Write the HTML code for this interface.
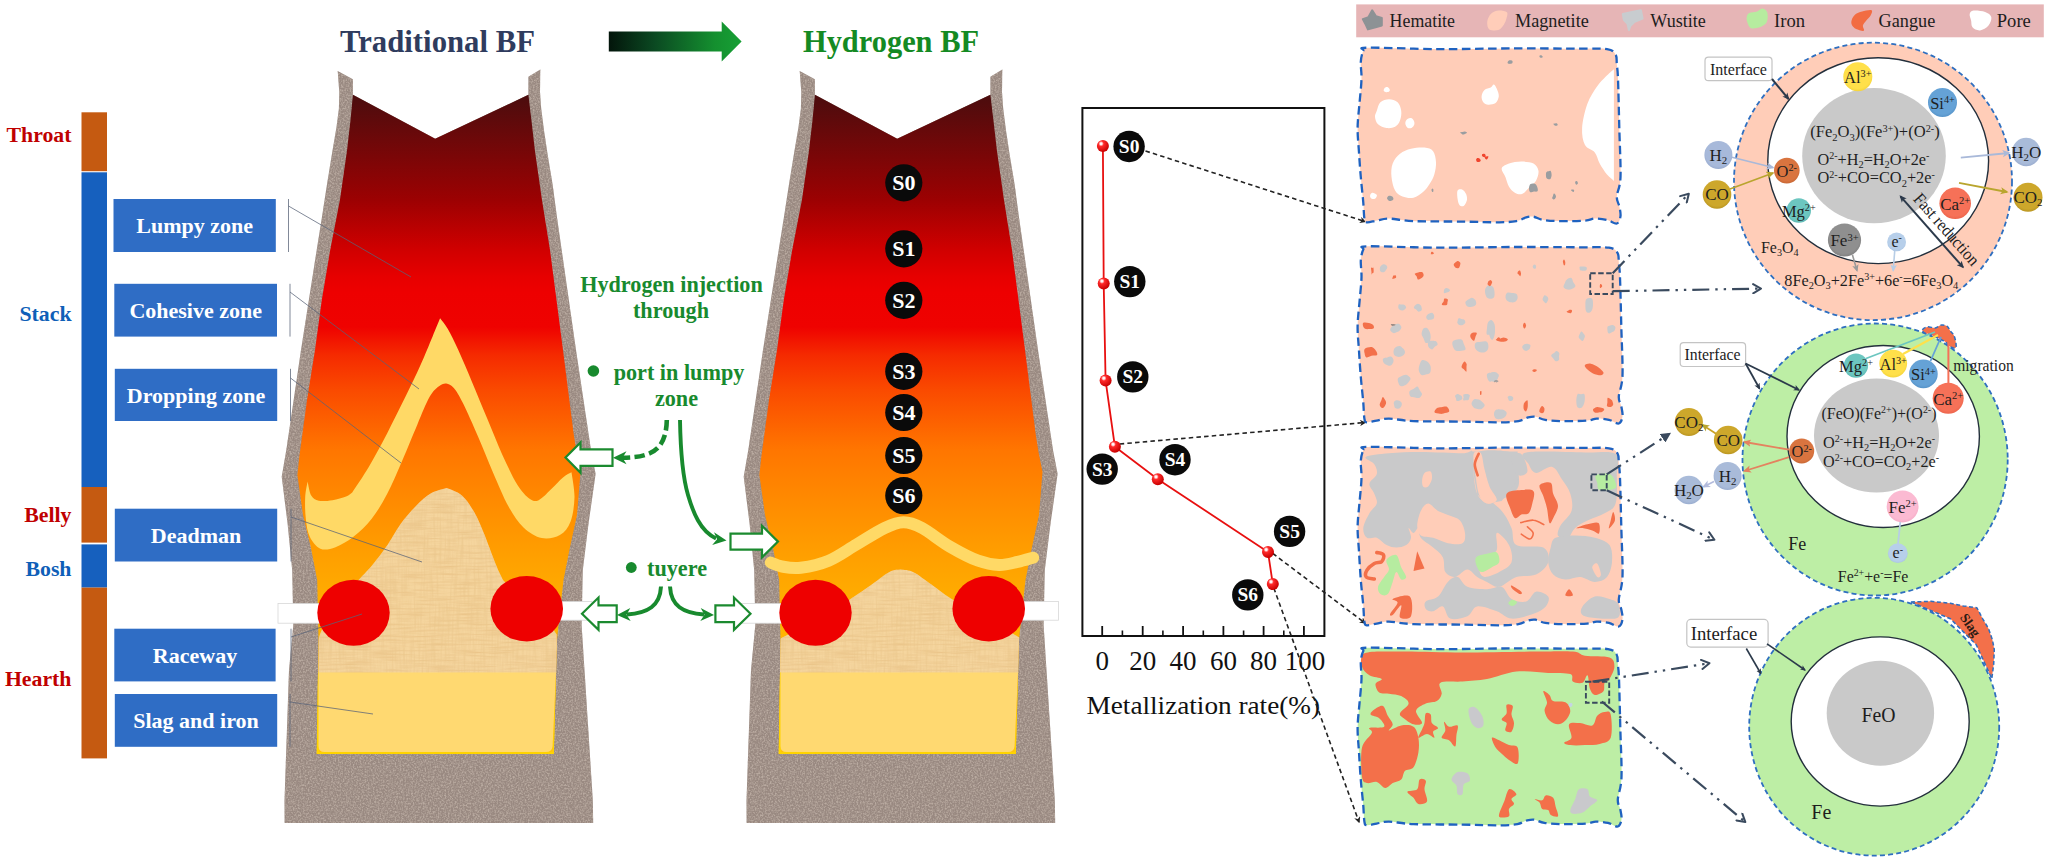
<!DOCTYPE html>
<html><head><meta charset="utf-8"><title>Hydrogen BF</title>
<style>html,body{margin:0;padding:0;background:#fff}svg{display:block}text{font-family:'Liberation Serif',serif}</style>
</head><body>
<svg width="2048" height="857" viewBox="0 0 2048 857">
<defs>
<linearGradient id="fire" gradientUnits="userSpaceOnUse" x1="0" y1="94" x2="0" y2="756">
 <stop offset="0" stop-color="#4a0d0e"/>
 <stop offset="0.07" stop-color="#6e0809"/>
 <stop offset="0.16" stop-color="#9c0102"/>
 <stop offset="0.235" stop-color="#d00000"/>
 <stop offset="0.275" stop-color="#e60000"/>
 <stop offset="0.30" stop-color="#ee0000"/>
 <stop offset="0.352" stop-color="#ef0200"/>
 <stop offset="0.394" stop-color="#f52a00"/>
 <stop offset="0.447" stop-color="#fa4a00"/>
 <stop offset="0.538" stop-color="#ff7600"/>
 <stop offset="0.643" stop-color="#ff9200"/>
 <stop offset="0.70" stop-color="#ffa000"/>
 <stop offset="0.78" stop-color="#ffb000"/>
 <stop offset="1" stop-color="#ffc40a"/>
</linearGradient>
<linearGradient id="garrow" x1="0" y1="0" x2="1" y2="0">
 <stop offset="0" stop-color="#03150b"/>
 <stop offset="0.35" stop-color="#0b4a22"/>
 <stop offset="0.8" stop-color="#14902f"/>
 <stop offset="1" stop-color="#17a035"/>
</linearGradient>
<filter id="grain" x="0" y="0" width="100%" height="100%" color-interpolation-filters="sRGB">
 <feTurbulence type="fractalNoise" baseFrequency="0.6" numOctaves="2" seed="3" result="n"/>
 <feColorMatrix in="n" type="matrix" values="0 0 0 0 0  0 0 0 0 0  0 0 0 0 0  2.6 0 0 0 -1.0" result="a"/>
 <feFlood flood-color="#b9aaa0" result="f"/>
 <feComposite in="f" in2="a" operator="in" result="sp"/>
 <feComposite in="sp" in2="SourceGraphic" operator="in" result="sp2"/>
 <feMerge><feMergeNode in="SourceGraphic"/><feMergeNode in="sp2"/></feMerge>
</filter>
<pattern id="weave" width="4" height="4" patternUnits="userSpaceOnUse">
 <rect width="4" height="4" fill="#f8dba4"/>
 <path d="M0 1H4M0 3H4" stroke="#efca8e" stroke-width="0.6" opacity="0.6"/>
 <path d="M1 0V4M3 0V4" stroke="#f1d097" stroke-width="0.6" opacity="0.7"/>
</pattern>
<filter id="streak" x="0" y="0" width="100%" height="100%" color-interpolation-filters="sRGB">
 <feTurbulence type="fractalNoise" baseFrequency="0.035 0.5" numOctaves="2" seed="5" result="h"/>
 <feColorMatrix in="h" type="matrix" values="0 0 0 0 0.90  0 0 0 0 0.74  0 0 0 0 0.50  1.4 0 0 0 -0.55" result="ha"/>
 <feTurbulence type="fractalNoise" baseFrequency="0.5 0.03" numOctaves="2" seed="11" result="v"/>
 <feColorMatrix in="v" type="matrix" values="0 0 0 0 0.92  0 0 0 0 0.78  0 0 0 0 0.55  1.4 0 0 0 -0.55" result="va"/>
 <feMerge result="m"><feMergeNode in="ha"/><feMergeNode in="va"/></feMerge>
 <feComposite in="m" in2="SourceGraphic" operator="in" result="mm"/>
 <feMerge><feMergeNode in="SourceGraphic"/><feMergeNode in="mm"/></feMerge>
</filter>
<radialGradient id="ball" cx="0.35" cy="0.3" r="0.7">
 <stop offset="0" stop-color="#ffffff"/>
 <stop offset="0.12" stop-color="#fff0f0"/>
 <stop offset="0.32" stop-color="#ff2a2a"/>
 <stop offset="1" stop-color="#c80000"/>
</radialGradient>
<marker id="mDark" viewBox="0 0 10 10" refX="8" refY="5" markerWidth="5.5" markerHeight="5.5" orient="auto-start-reverse">
 <path d="M0 0.5L9.5 5L0 9.5L2.5 5z" fill="#2c3a4b"/>
</marker>
<marker id="mOpen" viewBox="0 0 12 12" refX="10" refY="6" markerWidth="5" markerHeight="5" orient="auto">
 <path d="M2 1L10.5 6L2 11" fill="none" stroke="#3a4a5e" stroke-width="2.2" stroke-linecap="round" stroke-linejoin="round"/>
</marker>
<marker id="mTri" viewBox="0 0 10 10" refX="7" refY="5" markerWidth="4.6" markerHeight="4.6" orient="auto">
 <path d="M0 0L10 5L0 10z" fill="#3a4a5e"/>
</marker>
<marker id="mBlk" viewBox="0 0 10 10" refX="8" refY="5" markerWidth="4" markerHeight="4" orient="auto">
 <path d="M0 0L10 5L0 10L3 5z" fill="#222"/>
</marker>

<clipPath id="fc1"><polygon points="352.9,94.8 435.2,138.7 528.4,94.8 531.4,120.0 534.9,150.4 541.9,199.4 550.0,250.0 563.0,350.0 573.6,433.5 576.5,452.0 580.5,472.0 577.0,515.0 570.0,547.0 563.5,580.0 558.5,625.0 557.0,640.0 553.8,754.0 316.7,754.0 318.5,640.0 317.2,580.0 310.8,547.0 303.0,515.0 297.4,475.0 299.2,457.7 307.0,400.0 315.0,350.0 321.8,300.0 330.2,250.0 340.0,199.4 347.0,150.4 350.5,120.0"/></clipPath>
<clipPath id="fc2"><polygon points="352.9,94.8 435.2,138.7 528.4,94.8 531.4,120.0 534.9,150.4 541.9,199.4 550.0,250.0 563.0,350.0 573.6,433.5 576.5,452.0 580.5,472.0 577.0,515.0 570.0,547.0 563.5,580.0 558.5,625.0 557.0,640.0 553.8,754.0 316.7,754.0 318.5,640.0 317.2,580.0 310.8,547.0 303.0,515.0 297.4,475.0 299.2,457.7 307.0,400.0 315.0,350.0 321.8,300.0 330.2,250.0 340.0,199.4 347.0,150.4 350.5,120.0"/></clipPath>
<clipPath id="pc0"><path d="M1363.3 50.9 C1364.5 48.5 1355.8 48.0 1368.2 47.7 C1380.7 47.4 1414.1 49.0 1438.0 49.1 C1461.9 49.2 1488.2 48.5 1511.5 48.4 C1534.8 48.3 1562.1 48.6 1578.0 48.7 C1593.9 48.8 1600.7 48.1 1607.0 49.1 C1613.3 50.1 1614.0 52.0 1615.6 54.5 C1617.2 57.0 1616.4 60.3 1616.8 64.4 C1617.2 68.5 1617.6 68.4 1618.0 79.0 C1618.4 89.6 1618.9 111.7 1619.3 128.0 C1619.7 144.3 1620.9 165.6 1620.5 177.0 C1620.1 188.4 1617.0 191.7 1616.8 196.6 C1616.6 201.5 1618.7 203.1 1619.3 206.4 C1619.9 209.7 1620.9 213.3 1620.5 216.2 C1620.1 219.0 1619.0 222.9 1616.8 223.5 C1614.5 224.1 1610.7 220.7 1607.0 219.9 C1603.3 219.1 1598.5 218.5 1594.8 218.6 C1591.1 218.7 1590.7 220.2 1585.0 220.6 C1579.3 221.0 1567.5 221.2 1560.5 221.1 C1553.5 221.0 1547.8 220.6 1543.3 219.9 C1538.8 219.2 1536.3 217.1 1533.5 216.7 C1530.7 216.3 1529.0 216.7 1526.2 217.4 C1523.4 218.1 1520.9 220.3 1516.4 221.1 C1511.9 221.9 1508.2 222.2 1499.2 222.3 C1490.2 222.4 1476.7 221.8 1462.4 221.6 C1448.1 221.4 1425.6 221.6 1413.4 221.1 C1401.2 220.6 1395.1 218.7 1389.0 218.6 C1382.9 218.5 1380.4 220.0 1376.7 220.6 C1373.0 221.2 1369.0 222.6 1366.9 222.3 C1364.9 222.0 1365.0 222.1 1364.4 218.6 C1363.8 215.1 1363.8 208.4 1363.2 201.5 C1362.6 194.6 1361.5 185.2 1360.8 177.0 C1360.1 168.8 1359.5 160.6 1359.0 152.4 C1358.5 144.2 1357.5 136.2 1357.6 128.0 C1357.7 119.8 1358.8 111.6 1359.5 103.4 C1360.2 95.2 1361.3 85.9 1361.5 79.0 C1361.7 72.1 1360.5 66.6 1360.8 61.9 C1361.1 57.2 1362.1 53.3 1363.3 50.9Z"/></clipPath>
<clipPath id="pc1"><path d="M1363.3 249.5 C1364.5 247.1 1355.8 246.6 1368.2 246.3 C1380.7 246.0 1414.1 247.6 1438.0 247.7 C1461.9 247.8 1487.8 247.1 1511.5 247.0 C1535.2 246.9 1563.8 247.2 1580.0 247.3 C1596.2 247.4 1602.7 246.7 1609.0 247.7 C1615.3 248.7 1616.0 250.5 1617.6 253.1 C1619.2 255.7 1618.4 258.9 1618.8 263.0 C1619.2 267.1 1619.6 267.0 1620.0 277.6 C1620.4 288.2 1620.9 310.3 1621.3 326.6 C1621.7 342.9 1622.9 363.9 1622.5 375.6 C1622.1 387.3 1619.0 391.5 1618.8 396.6 C1618.6 401.7 1620.7 403.1 1621.3 406.4 C1621.9 409.7 1622.9 413.3 1622.5 416.2 C1622.1 419.1 1621.0 422.9 1618.8 423.5 C1616.5 424.1 1612.7 420.7 1609.0 419.9 C1605.3 419.1 1600.5 418.5 1596.8 418.6 C1593.1 418.7 1592.7 420.2 1587.0 420.6 C1581.3 421.0 1569.5 421.2 1562.5 421.1 C1555.5 421.0 1549.8 420.6 1545.3 419.9 C1540.8 419.2 1538.3 417.1 1535.5 416.7 C1532.7 416.3 1531.0 416.7 1528.2 417.4 C1525.4 418.1 1522.9 420.3 1518.4 421.1 C1513.9 421.9 1510.5 422.2 1501.2 422.3 C1491.9 422.4 1477.0 421.8 1462.4 421.6 C1447.8 421.4 1425.6 421.6 1413.4 421.1 C1401.2 420.6 1395.1 418.7 1389.0 418.6 C1382.9 418.5 1380.4 420.0 1376.7 420.6 C1373.0 421.2 1369.0 422.6 1366.9 422.3 C1364.9 422.0 1365.0 422.1 1364.4 418.6 C1363.8 415.1 1363.8 408.4 1363.2 401.5 C1362.6 394.6 1361.5 385.4 1360.8 377.0 C1360.1 368.6 1359.5 359.4 1359.0 351.0 C1358.5 342.6 1357.5 334.8 1357.6 326.6 C1357.7 318.4 1358.8 310.2 1359.5 302.0 C1360.2 293.8 1361.3 284.5 1361.5 277.6 C1361.7 270.7 1360.5 265.2 1360.8 260.5 C1361.1 255.8 1362.1 251.9 1363.3 249.5Z"/></clipPath>
<clipPath id="pc2"><path d="M1363.3 450.1 C1364.5 447.7 1355.8 447.2 1368.2 446.9 C1380.7 446.6 1414.1 448.2 1438.0 448.3 C1461.9 448.4 1487.8 447.7 1511.5 447.6 C1535.2 447.5 1563.8 447.8 1580.0 447.9 C1596.2 448.0 1602.7 447.3 1609.0 448.3 C1615.3 449.3 1616.0 451.2 1617.6 453.7 C1619.2 456.3 1618.4 459.5 1618.8 463.6 C1619.2 467.7 1619.6 467.6 1620.0 478.2 C1620.4 488.8 1620.9 510.9 1621.3 527.2 C1621.7 543.5 1622.9 564.1 1622.5 576.2 C1622.1 588.3 1619.0 594.1 1618.8 599.6 C1618.6 605.1 1620.7 606.1 1621.3 609.4 C1621.9 612.7 1622.9 616.4 1622.5 619.2 C1622.1 622.1 1621.0 625.9 1618.8 626.5 C1616.5 627.1 1612.7 623.7 1609.0 622.9 C1605.3 622.1 1600.5 621.5 1596.8 621.6 C1593.1 621.7 1592.7 623.2 1587.0 623.6 C1581.3 624.0 1569.5 624.2 1562.5 624.1 C1555.5 624.0 1549.8 623.6 1545.3 622.9 C1540.8 622.2 1538.3 620.1 1535.5 619.7 C1532.7 619.3 1531.0 619.7 1528.2 620.4 C1525.4 621.1 1522.9 623.3 1518.4 624.1 C1513.9 624.9 1510.5 625.2 1501.2 625.3 C1491.9 625.4 1477.0 624.8 1462.4 624.6 C1447.8 624.4 1425.6 624.6 1413.4 624.1 C1401.2 623.6 1395.1 621.7 1389.0 621.6 C1382.9 621.5 1380.4 623.0 1376.7 623.6 C1373.0 624.2 1369.0 625.6 1366.9 625.3 C1364.9 625.0 1365.0 625.1 1364.4 621.6 C1363.8 618.1 1363.8 611.4 1363.2 604.5 C1362.6 597.6 1361.5 588.8 1360.8 580.0 C1360.1 571.2 1359.5 560.4 1359.0 551.6 C1358.5 542.8 1357.5 535.4 1357.6 527.2 C1357.7 519.0 1358.8 510.8 1359.5 502.6 C1360.2 494.4 1361.3 485.1 1361.5 478.2 C1361.7 471.3 1360.5 465.8 1360.8 461.1 C1361.1 456.4 1362.1 452.5 1363.3 450.1Z"/></clipPath>
<clipPath id="pc3"><path d="M1363.3 650.9 C1364.5 648.5 1355.8 648.0 1368.2 647.7 C1380.7 647.4 1414.1 649.0 1438.0 649.1 C1461.9 649.2 1488.0 648.5 1511.5 648.4 C1535.0 648.3 1562.9 648.6 1579.0 648.7 C1595.1 648.8 1601.7 648.1 1608.0 649.1 C1614.3 650.1 1615.0 652.0 1616.6 654.5 C1618.2 657.0 1617.4 660.3 1617.8 664.4 C1618.2 668.5 1618.6 668.4 1619.0 679.0 C1619.4 689.6 1619.9 711.7 1620.3 728.0 C1620.7 744.3 1621.9 765.1 1621.5 777.0 C1621.1 788.9 1618.0 794.2 1617.8 799.6 C1617.6 805.0 1619.7 806.1 1620.3 809.4 C1620.9 812.7 1621.9 816.4 1621.5 819.2 C1621.1 822.1 1620.0 825.9 1617.8 826.5 C1615.5 827.1 1611.7 823.7 1608.0 822.9 C1604.3 822.1 1599.5 821.5 1595.8 821.6 C1592.1 821.7 1591.7 823.2 1586.0 823.6 C1580.3 824.0 1568.5 824.2 1561.5 824.1 C1554.5 824.0 1548.8 823.6 1544.3 822.9 C1539.8 822.2 1537.3 820.1 1534.5 819.7 C1531.7 819.3 1530.0 819.7 1527.2 820.4 C1524.4 821.1 1521.9 823.3 1517.4 824.1 C1512.9 824.9 1509.4 825.2 1500.2 825.3 C1491.0 825.4 1476.9 824.8 1462.4 824.6 C1447.9 824.4 1425.6 824.6 1413.4 824.1 C1401.2 823.6 1395.1 821.7 1389.0 821.6 C1382.9 821.5 1380.4 823.0 1376.7 823.6 C1373.0 824.2 1369.0 825.6 1366.9 825.3 C1364.9 825.0 1365.0 825.1 1364.4 821.6 C1363.8 818.1 1363.8 811.4 1363.2 804.5 C1362.6 797.6 1361.5 788.7 1360.8 780.0 C1360.1 771.3 1359.5 761.1 1359.0 752.4 C1358.5 743.7 1357.5 736.2 1357.6 728.0 C1357.7 719.8 1358.8 711.6 1359.5 703.4 C1360.2 695.2 1361.3 685.9 1361.5 679.0 C1361.7 672.1 1360.5 666.6 1360.8 661.9 C1361.1 657.2 1362.1 653.3 1363.3 650.9Z"/></clipPath>
<marker id="mDk2" viewBox="0 0 10 10" refX="8" refY="5" markerWidth="3.6" markerHeight="3.6" orient="auto-start-reverse"><path d="M0 0.5L10 5L0 9.5L2.5 5z" fill="#2c3a4b"/></marker>
<marker id="mLB" viewBox="0 0 10 10" refX="8" refY="5" markerWidth="4.5" markerHeight="4.5" orient="auto-start-reverse"><path d="M0 0.5L10 5L0 9.5L2.5 5z" fill="#a9b9d9"/></marker>
<marker id="mOL" viewBox="0 0 10 10" refX="8" refY="5" markerWidth="4.5" markerHeight="4.5" orient="auto-start-reverse"><path d="M0 0.5L10 5L0 9.5L2.5 5z" fill="#b9a52e"/></marker>
<marker id="mGy" viewBox="0 0 10 10" refX="8" refY="5" markerWidth="4.5" markerHeight="4.5" orient="auto-start-reverse"><path d="M0 0.5L10 5L0 9.5L2.5 5z" fill="#9a9a9a"/></marker>
<marker id="mLb2" viewBox="0 0 10 10" refX="8" refY="5" markerWidth="4.5" markerHeight="4.5" orient="auto-start-reverse"><path d="M0 0.5L10 5L0 9.5L2.5 5z" fill="#b7cde6"/></marker>
<radialGradient id="g12" cx="0.5" cy="0.45" r="0.6"><stop offset="0" stop-color="#a7b9da"/><stop offset="0.75" stop-color="#a7b9da"/><stop offset="1" stop-color="#93a6cb"/></radialGradient>
<radialGradient id="g13" cx="0.5" cy="0.45" r="0.6"><stop offset="0" stop-color="#cda72b"/><stop offset="0.75" stop-color="#cda72b"/><stop offset="1" stop-color="#b08d1d"/></radialGradient>
<radialGradient id="g14" cx="0.5" cy="0.45" r="0.6"><stop offset="0" stop-color="#d9743f"/><stop offset="0.75" stop-color="#d9743f"/><stop offset="1" stop-color="#c0612f"/></radialGradient>
<radialGradient id="g15" cx="0.5" cy="0.45" r="0.6"><stop offset="0" stop-color="#ffe04a"/><stop offset="0.75" stop-color="#ffe04a"/><stop offset="1" stop-color="#f0cf35"/></radialGradient>
<radialGradient id="g16" cx="0.5" cy="0.45" r="0.6"><stop offset="0" stop-color="#65a2d6"/><stop offset="0.75" stop-color="#65a2d6"/><stop offset="1" stop-color="#4f8cc2"/></radialGradient>
<radialGradient id="g17" cx="0.5" cy="0.45" r="0.6"><stop offset="0" stop-color="#a9bbd9"/><stop offset="0.75" stop-color="#a9bbd9"/><stop offset="1" stop-color="#93a6cb"/></radialGradient>
<radialGradient id="g18" cx="0.5" cy="0.45" r="0.6"><stop offset="0" stop-color="#cda72b"/><stop offset="0.75" stop-color="#cda72b"/><stop offset="1" stop-color="#b08d1d"/></radialGradient>
<radialGradient id="g19" cx="0.5" cy="0.45" r="0.6"><stop offset="0" stop-color="#6cc6c0"/><stop offset="0.75" stop-color="#6cc6c0"/><stop offset="1" stop-color="#58b3ad"/></radialGradient>
<radialGradient id="g20" cx="0.5" cy="0.45" r="0.6"><stop offset="0" stop-color="#f67158"/><stop offset="0.75" stop-color="#f67158"/><stop offset="1" stop-color="#e85f47"/></radialGradient>
<radialGradient id="g21" cx="0.5" cy="0.45" r="0.6"><stop offset="0" stop-color="#8f8f8f"/><stop offset="0.75" stop-color="#8f8f8f"/><stop offset="1" stop-color="#7a7a7a"/></radialGradient>
<radialGradient id="g22" cx="0.5" cy="0.45" r="0.6"><stop offset="0" stop-color="#b7cfea"/><stop offset="0.75" stop-color="#b7cfea"/><stop offset="1" stop-color="#a3bfdf"/></radialGradient>
<radialGradient id="g23" cx="0.5" cy="0.45" r="0.6"><stop offset="0" stop-color="#6cc6c0"/><stop offset="0.75" stop-color="#6cc6c0"/><stop offset="1" stop-color="#58b3ad"/></radialGradient>
<radialGradient id="g24" cx="0.5" cy="0.45" r="0.6"><stop offset="0" stop-color="#ffe04a"/><stop offset="0.75" stop-color="#ffe04a"/><stop offset="1" stop-color="#f0cf35"/></radialGradient>
<radialGradient id="g25" cx="0.5" cy="0.45" r="0.6"><stop offset="0" stop-color="#65a2d6"/><stop offset="0.75" stop-color="#65a2d6"/><stop offset="1" stop-color="#4f8cc2"/></radialGradient>
<radialGradient id="g26" cx="0.5" cy="0.45" r="0.6"><stop offset="0" stop-color="#f67158"/><stop offset="0.75" stop-color="#f67158"/><stop offset="1" stop-color="#e85f47"/></radialGradient>
<marker id="mSa" viewBox="0 0 10 10" refX="8" refY="5" markerWidth="4.5" markerHeight="4.5" orient="auto-start-reverse"><path d="M0 0.5L10 5L0 9.5L2.5 5z" fill="#e4825f"/></marker>
<marker id="mLP" viewBox="0 0 10 10" refX="8" refY="5" markerWidth="4.5" markerHeight="4.5" orient="auto-start-reverse"><path d="M0 0.5L10 5L0 9.5L2.5 5z" fill="#b3bbdc"/></marker>
<radialGradient id="g29" cx="0.5" cy="0.45" r="0.6"><stop offset="0" stop-color="#cda72b"/><stop offset="0.75" stop-color="#cda72b"/><stop offset="1" stop-color="#b08d1d"/></radialGradient>
<radialGradient id="g30" cx="0.5" cy="0.45" r="0.6"><stop offset="0" stop-color="#cda72b"/><stop offset="0.75" stop-color="#cda72b"/><stop offset="1" stop-color="#b08d1d"/></radialGradient>
<radialGradient id="g31" cx="0.5" cy="0.45" r="0.6"><stop offset="0" stop-color="#a9bbd9"/><stop offset="0.75" stop-color="#a9bbd9"/><stop offset="1" stop-color="#93a6cb"/></radialGradient>
<radialGradient id="g32" cx="0.5" cy="0.45" r="0.6"><stop offset="0" stop-color="#a9bbd9"/><stop offset="0.75" stop-color="#a9bbd9"/><stop offset="1" stop-color="#93a6cb"/></radialGradient>
<radialGradient id="g33" cx="0.5" cy="0.45" r="0.6"><stop offset="0" stop-color="#d9743f"/><stop offset="0.75" stop-color="#d9743f"/><stop offset="1" stop-color="#c0612f"/></radialGradient>
<radialGradient id="g34" cx="0.5" cy="0.45" r="0.6"><stop offset="0" stop-color="#fbbad2"/><stop offset="0.75" stop-color="#fbbad2"/><stop offset="1" stop-color="#f3a6c2"/></radialGradient>
<radialGradient id="g35" cx="0.5" cy="0.45" r="0.6"><stop offset="0" stop-color="#b7cfea"/><stop offset="0.75" stop-color="#b7cfea"/><stop offset="1" stop-color="#a3bfdf"/></radialGradient></defs>
<rect width="2048" height="857" fill="#fff"/>
<rect x="81.5" y="112.3" width="25.5" height="58.9" fill="#c55a11"/>
<rect x="81.5" y="172.3" width="25.5" height="314.7" fill="#1660be"/>
<rect x="81.5" y="487.0" width="25.5" height="55.6" fill="#c55a11"/>
<rect x="81.5" y="544.4" width="25.5" height="43.2" fill="#1660be"/>
<rect x="81.5" y="587.6" width="25.5" height="170.8" fill="#c55a11"/>
<text x="71.5" y="141.5" text-anchor="end" font-family="'Liberation Serif', serif" font-weight="bold" font-size="21.8" fill="#c00000">Throat</text>
<text x="71.5" y="321.0" text-anchor="end" font-family="'Liberation Serif', serif" font-weight="bold" font-size="21.8" fill="#0f5fb8">Stack</text>
<text x="71.5" y="522.3" text-anchor="end" font-family="'Liberation Serif', serif" font-weight="bold" font-size="21.8" fill="#c00000">Belly</text>
<text x="71.5" y="576.2" text-anchor="end" font-family="'Liberation Serif', serif" font-weight="bold" font-size="21.8" fill="#0f5fb8">Bosh</text>
<text x="71.5" y="685.8" text-anchor="end" font-family="'Liberation Serif', serif" font-weight="bold" font-size="21.8" fill="#c00000">Hearth</text>
<rect x="113.5" y="199.0" width="162.3" height="53.0" fill="#2f6dc5"/>
<text x="194.7" y="233.4" text-anchor="middle" font-family="'Liberation Serif', serif" font-weight="bold" font-size="22" fill="#fff">Lumpy zone</text>
<rect x="114.3" y="283.8" width="162.7" height="52.8" fill="#2f6dc5"/>
<text x="195.7" y="318.1" text-anchor="middle" font-family="'Liberation Serif', serif" font-weight="bold" font-size="22" fill="#fff">Cohesive zone</text>
<rect x="114.8" y="368.8" width="162.4" height="52.2" fill="#2f6dc5"/>
<text x="196.0" y="402.8" text-anchor="middle" font-family="'Liberation Serif', serif" font-weight="bold" font-size="22" fill="#fff">Dropping zone</text>
<rect x="114.8" y="508.7" width="162.4" height="52.8" fill="#2f6dc5"/>
<text x="196.0" y="543.0" text-anchor="middle" font-family="'Liberation Serif', serif" font-weight="bold" font-size="22" fill="#fff">Deadman</text>
<rect x="114.3" y="628.7" width="161.3" height="52.7" fill="#2f6dc5"/>
<text x="195.0" y="662.9" text-anchor="middle" font-family="'Liberation Serif', serif" font-weight="bold" font-size="22" fill="#fff">Raceway</text>
<rect x="114.8" y="694.0" width="162.4" height="52.8" fill="#2f6dc5"/>
<text x="196.0" y="728.3" text-anchor="middle" font-family="'Liberation Serif', serif" font-weight="bold" font-size="22" fill="#fff">Slag and iron</text>
<g transform="translate(0 0)">
<polygon points="337.7,71.0 352.9,79.2 352.9,94.8 435.2,138.7 528.4,94.8 528.4,76.8 540.3,69.4 540.0,92.0 541.2,108.4 544.2,131.7 547.7,155.0 552.4,183.0 557.1,218.0 561.7,250.0 576.0,350.0 591.0,450.0 595.6,474.0 588.6,523.0 582.8,570.0 581.6,625.0 584.5,670.0 592.8,800.0 593.2,823.0 284.6,823.0 284.5,800.0 289.0,670.0 293.3,625.0 292.2,570.0 287.5,523.0 281.7,476.7 286.3,450.0 301.0,350.0 316.7,250.0 321.8,218.0 327.2,183.0 332.5,150.4 336.5,127.0 338.9,108.4 339.3,92.0" fill="#998981" filter="url(#grain)"/>
<polygon points="352.9,94.8 435.2,138.7 528.4,94.8 531.4,120.0 534.9,150.4 541.9,199.4 550.0,250.0 563.0,350.0 573.6,433.5 576.5,452.0 580.5,472.0 577.0,515.0 570.0,547.0 563.5,580.0 558.5,625.0 557.0,640.0 553.8,754.0 316.7,754.0 318.5,640.0 317.2,580.0 310.8,547.0 303.0,515.0 297.4,475.0 299.2,457.7 307.0,400.0 315.0,350.0 321.8,300.0 330.2,250.0 340.0,199.4 347.0,150.4 350.5,120.0" fill="url(#fire)"/>
<g clip-path="url(#fc1)">
<path d="M440.1 318.2 C438.9 321.2 435.8 328.6 432.6 336.4 C429.3 344.2 425.0 355.1 420.4 365.2 C415.9 375.3 410.8 385.7 405.3 397.1 C399.7 408.4 393.1 421.8 387.1 433.5 C381.0 445.1 374.7 457.0 368.9 466.8 C363.0 476.7 355.0 488.3 352.2 492.6 C351.2 493.3 349.4 495.3 346.1 496.5 C342.8 497.8 337.0 499.5 332.5 500.2 C327.9 500.9 322.4 501.5 318.8 500.8 C315.3 500.0 313.1 498.9 311.2 495.6 C309.4 492.4 308.2 483.7 307.6 481.4 C307.2 484.0 305.5 491.0 305.2 497.1 C304.9 503.3 305.0 511.8 305.8 518.4 C306.5 524.9 307.3 531.5 309.7 536.6 C312.1 541.6 316.0 546.9 320.3 548.7 C324.6 550.5 329.9 549.2 335.5 547.2 C341.1 545.2 347.6 541.4 353.7 536.6 C359.8 531.8 366.3 525.5 371.9 518.4 C377.5 511.3 382.0 503.7 387.1 494.1 C392.1 484.5 397.2 472.4 402.2 460.7 C407.3 449.1 412.8 435.0 417.4 424.4 C421.9 413.7 426.0 403.4 429.5 397.1 C433.1 390.7 435.8 388.7 438.6 386.4 C441.4 384.2 443.7 383.2 446.2 383.4 C448.7 383.7 451.0 384.7 453.8 388.0 C456.6 391.2 458.8 395.0 462.9 403.1 C466.9 411.2 473.0 424.9 478.0 436.5 C483.1 448.1 488.2 461.3 493.2 472.9 C498.3 484.5 503.3 497.1 508.4 506.2 C513.4 515.3 518.0 522.2 523.5 527.5 C529.1 532.8 535.7 536.8 541.7 538.1 C547.8 539.4 555.1 537.8 559.9 535.1 C564.7 532.3 568.1 527.7 570.6 521.4 C573.0 515.1 574.3 505.3 574.5 497.1 C574.6 489.0 572.0 476.4 571.5 472.3 C570.0 473.1 566.4 474.5 563.0 477.4 C559.5 480.3 554.9 485.8 550.8 489.6 C546.8 493.4 542.2 498.7 538.7 500.2 C535.2 501.7 533.1 501.2 529.6 498.7 C526.1 496.1 522.0 492.3 517.5 485.0 C512.9 477.7 507.4 465.8 502.3 454.7 C497.3 443.6 492.2 430.4 487.1 418.3 C482.1 406.2 476.8 393.3 472.0 381.9 C467.2 370.5 462.4 358.9 458.3 350.0 C454.3 341.2 450.7 334.1 447.7 328.8 C444.7 323.5 441.4 320.0 440.1 318.2Z" fill="#ffd966"/>
<path d="M446.8 488.0 C444.2 488.8 436.5 490.1 431.4 493.1 C426.3 496.1 421.1 500.8 416.0 505.9 C410.9 511.1 405.3 517.5 400.6 523.9 C395.9 530.3 392.5 537.6 387.8 544.4 C383.1 551.3 377.1 559.2 372.4 564.9 C367.7 570.7 365.1 572.6 359.5 579.1 C354.0 585.5 345.0 595.5 339.0 603.4 C333.0 611.3 327.0 620.5 323.6 626.5 C320.2 632.5 319.3 637.2 318.5 639.4L318.5 673L558 673L556.6 634.2 C554.1 630.8 547.6 620.1 541.7 613.7 C535.8 607.3 527.2 600.9 521.2 595.7 C515.2 590.6 509.2 586.3 505.8 582.9 C502.4 579.5 502.8 579.5 500.7 575.2 C498.5 570.9 495.5 563.7 493.0 557.2 C490.4 550.8 488.3 544.0 485.3 536.7 C482.3 529.4 478.9 520.5 475.0 513.6 C471.2 506.8 466.9 499.9 462.2 495.7 C457.5 491.4 449.4 489.2 446.8 488.0Z" fill="url(#weave)" filter="url(#streak)"/>
<path d="M317.6 672.4V753.2H553.9L557.2 672.4" fill="none" stroke="#ffd400" stroke-width="2.6"/>
<path d="M318.5 672.4H556L552.6 746Q552 752 546 752H324.5Q318.5 752 318.5 746Z" fill="#ffd971"/>
</g>
<rect x="278" y="603.6" width="60" height="19.6" fill="#fff" stroke="#d8d8d8" stroke-width="0.8"/>
<rect x="540" y="601.6" width="52" height="18.6" fill="#fff" stroke="#d8d8d8" stroke-width="0.8"/>
<ellipse cx="353.5" cy="612.8" rx="36.2" ry="33" fill="#ee0000"/>
<ellipse cx="526.7" cy="608.8" rx="36.3" ry="32.8" fill="#ee0000"/>
</g>
<g transform="translate(462 0)">
<polygon points="337.7,71.0 352.9,79.2 352.9,94.8 435.2,138.7 528.4,94.8 528.4,76.8 540.3,69.4 540.0,92.0 541.2,108.4 544.2,131.7 547.7,155.0 552.4,183.0 557.1,218.0 561.7,250.0 576.0,350.0 591.0,450.0 595.6,474.0 588.6,523.0 582.8,570.0 581.6,625.0 584.5,670.0 592.8,800.0 593.2,823.0 284.6,823.0 284.5,800.0 289.0,670.0 293.3,625.0 292.2,570.0 287.5,523.0 281.7,476.7 286.3,450.0 301.0,350.0 316.7,250.0 321.8,218.0 327.2,183.0 332.5,150.4 336.5,127.0 338.9,108.4 339.3,92.0" fill="#998981" filter="url(#grain)"/>
<polygon points="352.9,94.8 435.2,138.7 528.4,94.8 531.4,120.0 534.9,150.4 541.9,199.4 550.0,250.0 563.0,350.0 573.6,433.5 576.5,452.0 580.5,472.0 577.0,515.0 570.0,547.0 563.5,580.0 558.5,625.0 557.0,640.0 553.8,754.0 316.7,754.0 318.5,640.0 317.2,580.0 310.8,547.0 303.0,515.0 297.4,475.0 299.2,457.7 307.0,400.0 315.0,350.0 321.8,300.0 330.2,250.0 340.0,199.4 347.0,150.4 350.5,120.0" fill="url(#fire)"/>
<g clip-path="url(#fc2)">
<path d="M439.0 569.6 C437.1 570.0 432.4 569.3 427.4 571.9 C422.3 574.5 414.9 580.9 408.7 585.2 C402.5 589.6 396.3 594.0 390.0 598.0 C383.8 602.1 383.7 602.7 371.4 609.7 C359.0 616.7 325.2 635.0 316.0 640.0L316 673L562 673L562 640 C553.2 635.0 521.4 616.7 509.1 609.7 C496.7 602.7 494.7 602.2 488.1 598.0 C481.4 593.8 475.4 588.8 469.4 584.5 C463.4 580.2 456.9 574.9 451.9 572.4 C446.8 569.9 441.2 570.0 439.0 569.6Z" fill="url(#weave)" filter="url(#streak)"/>
<path d="M317.6 672.4V753.2H553.9L557.2 672.4" fill="none" stroke="#ffd400" stroke-width="2.6"/>
<path d="M318.5 672.4H556L552.6 746Q552 752 546 752H324.5Q318.5 752 318.5 746Z" fill="#ffd971"/>
</g>
<path d="M308.8 562.6 C310.7 563.2 315.0 565.7 320.0 566.5 C325.0 567.4 330.9 568.7 338.7 567.7 C346.5 566.7 357.4 564.6 366.7 560.7 C376.0 556.8 385.4 549.8 394.7 544.4 C404.0 538.9 414.9 531.7 422.7 528.0 C430.5 524.3 435.2 522.2 441.4 522.2 C447.6 522.2 452.3 523.9 460.1 528.0 C467.8 532.1 478.7 541.3 488.1 546.7 C497.4 552.1 507.9 557.7 516.1 560.7 C524.2 563.7 530.5 564.7 537.1 564.9 C543.7 565.1 550.1 563.1 555.7 561.9 C561.4 560.7 568.6 558.4 571.2 557.7" fill="none" stroke="#ffd966" stroke-width="12" stroke-linecap="round" stroke-linejoin="round"/>
<rect x="278" y="603.6" width="60" height="19.6" fill="#fff" stroke="#d8d8d8" stroke-width="0.8"/>
<rect x="540" y="601.6" width="56.6" height="18.6" fill="#fff" stroke="#d8d8d8" stroke-width="0.8"/>
<ellipse cx="353.5" cy="612.8" rx="36.2" ry="33" fill="#ee0000"/>
<ellipse cx="526.7" cy="608.8" rx="36.3" ry="32.8" fill="#ee0000"/>
</g>
<line x1="288.5" y1="199.0" x2="288.5" y2="252.0" stroke="#5a6478" stroke-width="0.9" opacity="0.85"/>
<line x1="288.5" y1="206.0" x2="411.0" y2="277.0" stroke="#5a6478" stroke-width="0.9" opacity="0.85"/>
<line x1="290.0" y1="283.8" x2="290.0" y2="336.6" stroke="#5a6478" stroke-width="0.9" opacity="0.85"/>
<line x1="290.0" y1="292.0" x2="419.0" y2="389.0" stroke="#5a6478" stroke-width="0.9" opacity="0.85"/>
<line x1="290.5" y1="368.8" x2="290.5" y2="421.0" stroke="#5a6478" stroke-width="0.9" opacity="0.85"/>
<line x1="290.5" y1="378.0" x2="401.0" y2="463.0" stroke="#5a6478" stroke-width="0.9" opacity="0.85"/>
<line x1="291.0" y1="508.7" x2="291.0" y2="561.5" stroke="#5a6478" stroke-width="0.9" opacity="0.85"/>
<line x1="291.0" y1="517.0" x2="422.0" y2="562.0" stroke="#5a6478" stroke-width="0.9" opacity="0.85"/>
<line x1="291.0" y1="628.7" x2="291.0" y2="681.4" stroke="#5a6478" stroke-width="0.9" opacity="0.85"/>
<line x1="291.0" y1="637.0" x2="362.0" y2="614.0" stroke="#5a6478" stroke-width="0.9" opacity="0.85"/>
<line x1="290.0" y1="694.0" x2="290.0" y2="746.8" stroke="#5a6478" stroke-width="0.9" opacity="0.85"/>
<line x1="290.0" y1="702.0" x2="373.0" y2="714.0" stroke="#5a6478" stroke-width="0.9" opacity="0.85"/>
<text x="437.5" y="51.5" text-anchor="middle" font-family="'Liberation Serif', serif" font-weight="bold" font-size="31.5" fill="#2f3c5e" textLength="195" lengthAdjust="spacingAndGlyphs">Traditional BF</text>
<text x="891" y="51.5" text-anchor="middle" font-family="'Liberation Serif', serif" font-weight="bold" font-size="31.5" fill="#148a23" textLength="176" lengthAdjust="spacingAndGlyphs">Hydrogen BF</text>
<path d="M608.8 31.6H721.7V21.6L741.6 41.5L721.7 61.5V51.5H608.8Z" fill="url(#garrow)"/>
<text x="671.5" y="291.5" text-anchor="middle" font-family="'Liberation Serif', serif" font-weight="bold" font-size="22.2" fill="#188a2e">Hydrogen injection</text>
<text x="671" y="318" text-anchor="middle" font-family="'Liberation Serif', serif" font-weight="bold" font-size="22.2" fill="#188a2e">through</text>
<circle cx="593.4" cy="371" r="5.8" fill="#188a2e"/>
<text x="679" y="379.6" text-anchor="middle" font-family="'Liberation Serif', serif" font-weight="bold" font-size="22.2" fill="#188a2e">port in lumpy</text>
<text x="676.5" y="406" text-anchor="middle" font-family="'Liberation Serif', serif" font-weight="bold" font-size="22.2" fill="#188a2e">zone</text>
<circle cx="631.3" cy="567.5" r="5.4" fill="#188a2e"/>
<text x="677" y="576" text-anchor="middle" font-family="'Liberation Serif', serif" font-weight="bold" font-size="22.2" fill="#188a2e">tuyere</text>
<polygon points="612.5,449.4 580.5,449.4 580.5,442.4 565.5,457.6 580.5,472.8 580.5,465.8 612.5,465.8" fill="#fff" stroke="#1b8a2f" stroke-width="2.2" stroke-linejoin="miter"/>
<polygon points="730.5,533.6 762.0,533.6 762.0,525.8 778.0,541.6 762.0,557.4 762.0,549.6 730.5,549.6" fill="#fff" stroke="#1b8a2f" stroke-width="2.2" stroke-linejoin="miter"/>
<polygon points="616.7,605.3 598.5,605.3 598.5,597.5 582.0,613.7 598.5,629.9 598.5,622.1 616.7,622.1" fill="#fff" stroke="#1b8a2f" stroke-width="2.2" stroke-linejoin="miter"/>
<polygon points="715.4,605.3 734.0,605.3 734.0,597.5 750.5,613.7 734.0,629.9 734.0,622.1 715.4,622.1" fill="#fff" stroke="#1b8a2f" stroke-width="2.2" stroke-linejoin="miter"/>
<path d="M666.8 420 C666.5 436 662 449 648 454 C640 457 632 457.6 622 457.7" fill="none" stroke="#188a2e" stroke-width="4.6" stroke-dasharray="10.5 4.5"/>
<polygon points="613.0,457.8 626.5,451.3 622.5,457.8 626.5,464.3" fill="#188a2e"/>
<path d="M680 420 C680.5 450 683 478 688 495 C693 512 700 531 716 538.5" fill="none" stroke="#188a2e" stroke-width="3.9"/>
<polygon points="726.5,540.5 712.2,545.1 717.1,539.2 714.0,532.2" fill="#188a2e"/>
<path d="M661 586.5 C660 606 648 613 627 614.6" fill="none" stroke="#188a2e" stroke-width="4"/>
<polygon points="617.0,615.0 630.3,608.0 626.5,614.7 630.7,621.0" fill="#188a2e"/>
<path d="M670 586.5 C671 606 683 613 704 614.6" fill="none" stroke="#188a2e" stroke-width="4"/>
<polygon points="714.0,615.0 700.3,621.0 704.5,614.7 700.7,608.0" fill="#188a2e"/>
<circle cx="903.8" cy="182.8" r="18.6" fill="#0a0a0a"/>
<text x="903.8" y="190.1" text-anchor="middle" font-family="'Liberation Serif', serif" font-weight="bold" font-size="22" fill="#fff">S0</text>
<circle cx="903.8" cy="248.8" r="18.6" fill="#0a0a0a"/>
<text x="903.8" y="256.1" text-anchor="middle" font-family="'Liberation Serif', serif" font-weight="bold" font-size="22" fill="#fff">S1</text>
<circle cx="903.8" cy="300.3" r="18.6" fill="#0a0a0a"/>
<text x="903.8" y="307.6" text-anchor="middle" font-family="'Liberation Serif', serif" font-weight="bold" font-size="22" fill="#fff">S2</text>
<circle cx="903.8" cy="371.4" r="18.6" fill="#0a0a0a"/>
<text x="903.8" y="378.7" text-anchor="middle" font-family="'Liberation Serif', serif" font-weight="bold" font-size="22" fill="#fff">S3</text>
<circle cx="903.8" cy="412.5" r="18.6" fill="#0a0a0a"/>
<text x="903.8" y="419.8" text-anchor="middle" font-family="'Liberation Serif', serif" font-weight="bold" font-size="22" fill="#fff">S4</text>
<circle cx="903.8" cy="455.5" r="18.6" fill="#0a0a0a"/>
<text x="903.8" y="462.8" text-anchor="middle" font-family="'Liberation Serif', serif" font-weight="bold" font-size="22" fill="#fff">S5</text>
<circle cx="903.8" cy="495.7" r="18.6" fill="#0a0a0a"/>
<text x="903.8" y="503.0" text-anchor="middle" font-family="'Liberation Serif', serif" font-weight="bold" font-size="22" fill="#fff">S6</text>
<rect x="1082.4" y="108.0" width="242.0" height="528.0" fill="#fff" stroke="#111" stroke-width="2"/>
<line x1="1102.2" y1="636.0" x2="1102.2" y2="626.0" stroke="#111" stroke-width="1.8"/>
<line x1="1122.4" y1="636.0" x2="1122.4" y2="630.5" stroke="#111" stroke-width="1.6"/>
<text x="1102.2" y="669.8" text-anchor="middle" font-family="'Liberation Serif', serif" font-size="27" fill="#111">0</text>
<line x1="1142.7" y1="636.0" x2="1142.7" y2="626.0" stroke="#111" stroke-width="1.8"/>
<line x1="1162.9" y1="636.0" x2="1162.9" y2="630.5" stroke="#111" stroke-width="1.6"/>
<text x="1142.7" y="669.8" text-anchor="middle" font-family="'Liberation Serif', serif" font-size="27" fill="#111">20</text>
<line x1="1183.1" y1="636.0" x2="1183.1" y2="626.0" stroke="#111" stroke-width="1.8"/>
<line x1="1203.3" y1="636.0" x2="1203.3" y2="630.5" stroke="#111" stroke-width="1.6"/>
<text x="1183.1" y="669.8" text-anchor="middle" font-family="'Liberation Serif', serif" font-size="27" fill="#111">40</text>
<line x1="1223.4" y1="636.0" x2="1223.4" y2="626.0" stroke="#111" stroke-width="1.8"/>
<line x1="1243.6" y1="636.0" x2="1243.6" y2="630.5" stroke="#111" stroke-width="1.6"/>
<text x="1223.4" y="669.8" text-anchor="middle" font-family="'Liberation Serif', serif" font-size="27" fill="#111">60</text>
<line x1="1263.6" y1="636.0" x2="1263.6" y2="626.0" stroke="#111" stroke-width="1.8"/>
<line x1="1283.8" y1="636.0" x2="1283.8" y2="630.5" stroke="#111" stroke-width="1.6"/>
<text x="1263.6" y="669.8" text-anchor="middle" font-family="'Liberation Serif', serif" font-size="27" fill="#111">80</text>
<line x1="1303.9" y1="636.0" x2="1303.9" y2="626.0" stroke="#111" stroke-width="1.8"/>
<text x="1304.9" y="669.8" text-anchor="middle" font-family="'Liberation Serif', serif" font-size="27" fill="#111">100</text>
<text x="1203.3" y="713.8" text-anchor="middle" font-family="'Liberation Serif', serif" font-size="26" fill="#111" textLength="233.5" lengthAdjust="spacingAndGlyphs">Metallization rate(%)</text>
<line x1="1145.5" y1="151.0" x2="1365.0" y2="221.5" stroke="#222" stroke-width="1.6" stroke-dasharray="4.5 3.2" marker-end="url(#mBlk)"/>
<line x1="1119.7" y1="444.0" x2="1365.0" y2="422.5" stroke="#222" stroke-width="1.6" stroke-dasharray="4.5 3.2" marker-end="url(#mBlk)"/>
<line x1="1272.8" y1="553.5" x2="1365.0" y2="623.0" stroke="#222" stroke-width="1.6" stroke-dasharray="4.5 3.2" marker-end="url(#mBlk)"/>
<line x1="1273.8" y1="588.0" x2="1359.0" y2="822.0" stroke="#222" stroke-width="1.6" stroke-dasharray="4.5 3.2" marker-end="url(#mBlk)"/>
<polyline points="1102.9,146.1 1103.7,283.5 1105.6,380.6 1114.9,446.7 1157.8,479.2 1268.0,552.0 1272.8,584.1" fill="none" stroke="#e81010" stroke-width="1.8"/>
<circle cx="1129.1" cy="146.5" r="15.7" fill="#0a0a0a"/>
<text x="1129.1" y="153.0" text-anchor="middle" font-family="'Liberation Serif', serif" font-weight="bold" font-size="19.5" fill="#fff">S0</text>
<circle cx="1129.8" cy="281.6" r="15.7" fill="#0a0a0a"/>
<text x="1129.8" y="288.1" text-anchor="middle" font-family="'Liberation Serif', serif" font-weight="bold" font-size="19.5" fill="#fff">S1</text>
<circle cx="1132.8" cy="376.9" r="15.7" fill="#0a0a0a"/>
<text x="1132.8" y="383.4" text-anchor="middle" font-family="'Liberation Serif', serif" font-weight="bold" font-size="19.5" fill="#fff">S2</text>
<circle cx="1102.2" cy="469.1" r="15.7" fill="#0a0a0a"/>
<text x="1102.2" y="475.6" text-anchor="middle" font-family="'Liberation Serif', serif" font-weight="bold" font-size="19.5" fill="#fff">S3</text>
<circle cx="1175.0" cy="459.7" r="15.7" fill="#0a0a0a"/>
<text x="1175.0" y="466.2" text-anchor="middle" font-family="'Liberation Serif', serif" font-weight="bold" font-size="19.5" fill="#fff">S4</text>
<circle cx="1289.6" cy="531.4" r="15.7" fill="#0a0a0a"/>
<text x="1289.6" y="537.9" text-anchor="middle" font-family="'Liberation Serif', serif" font-weight="bold" font-size="19.5" fill="#fff">S5</text>
<circle cx="1247.8" cy="594.9" r="15.7" fill="#0a0a0a"/>
<text x="1247.8" y="601.4" text-anchor="middle" font-family="'Liberation Serif', serif" font-weight="bold" font-size="19.5" fill="#fff">S6</text>
<circle cx="1102.9" cy="146.1" r="6" fill="url(#ball)"/>
<circle cx="1103.7" cy="283.5" r="6" fill="url(#ball)"/>
<circle cx="1105.6" cy="380.6" r="6" fill="url(#ball)"/>
<circle cx="1114.9" cy="446.7" r="6" fill="url(#ball)"/>
<circle cx="1157.8" cy="479.2" r="6" fill="url(#ball)"/>
<circle cx="1268.0" cy="552.0" r="6" fill="url(#ball)"/>
<circle cx="1272.8" cy="584.1" r="6" fill="url(#ball)"/>
<rect x="1356.2" y="4.4" width="687.6" height="32.9" fill="#e6b5b6"/>
<text x="1389.6" y="26.7" font-family="'Liberation Serif', serif" font-size="18" fill="#1d1d1d" textLength="65.4" lengthAdjust="spacingAndGlyphs">Hematite</text>
<text x="1515.0" y="26.7" font-family="'Liberation Serif', serif" font-size="18" fill="#1d1d1d" textLength="73.8" lengthAdjust="spacingAndGlyphs">Magnetite</text>
<text x="1650.3" y="26.7" font-family="'Liberation Serif', serif" font-size="18" fill="#1d1d1d" textLength="55.5" lengthAdjust="spacingAndGlyphs">Wustite</text>
<text x="1774.0" y="26.7" font-family="'Liberation Serif', serif" font-size="18" fill="#1d1d1d" textLength="31.0" lengthAdjust="spacingAndGlyphs">Iron</text>
<text x="1878.6" y="26.7" font-family="'Liberation Serif', serif" font-size="18" fill="#1d1d1d" textLength="56.7" lengthAdjust="spacingAndGlyphs">Gangue</text>
<text x="1996.8" y="26.7" font-family="'Liberation Serif', serif" font-size="18" fill="#1d1d1d" textLength="34.0" lengthAdjust="spacingAndGlyphs">Pore</text>
<polygon points="1362.8,19.1 1368.5,17.1 1372.2,10.3 1376.0,16.2 1381.8,17.9 1381.8,25.6 1375.6,27.3 1367.9,29.4 1365.4,23.9" fill="#8d9295" stroke="#8d9295" stroke-linejoin="round" stroke-width="2"/>
<path d="M1492.2 12.8 C1493.8 11.7 1496.2 10.7 1498.7 10.6 C1501.1 10.5 1505.6 10.9 1506.9 12.3 C1508.2 13.7 1506.9 16.7 1506.4 18.8 C1505.9 20.9 1505.1 22.9 1503.8 24.8 C1502.5 26.7 1500.8 29.3 1498.3 30.1 C1495.9 30.8 1491.1 30.6 1489.3 29.4 C1487.4 28.2 1487.3 25.1 1487.2 23.1 C1487.1 21.0 1487.9 18.8 1488.8 17.1 C1489.6 15.4 1490.5 13.9 1492.2 12.8Z" fill="#ffcdb9" />
<polygon points="1622.8,14.0 1632.0,12.0 1640.9,10.3 1642.6,18.5 1634.0,22.2 1630.3,26.0 1628.9,30.1 1627.5,23.9 1623.8,19.8" fill="#c8cccf" stroke="#c8cccf" stroke-linejoin="round" stroke-width="2"/>
<path d="M1746.7 17.1 C1747.0 15.4 1747.6 13.9 1749.3 13.0 C1751.0 12.1 1754.8 12.4 1757.0 11.6 C1759.1 10.9 1760.4 8.4 1762.1 8.5 C1763.8 8.7 1766.4 10.0 1767.2 12.3 C1768.0 14.6 1768.0 19.7 1766.7 22.2 C1765.4 24.7 1762.1 26.3 1759.5 27.3 C1756.9 28.3 1753.0 28.9 1751.0 28.2 C1749.0 27.5 1748.3 24.9 1747.6 23.1 C1746.8 21.2 1746.4 18.8 1746.7 17.1Z" fill="#b6ec9f" />
<path d="M1851.8 19.7 C1852.4 17.9 1853.5 15.9 1855.2 14.5 C1856.9 13.2 1859.4 12.3 1862.1 11.6 C1864.8 10.9 1870.0 9.6 1871.5 10.3 C1872.9 10.9 1871.5 13.7 1870.6 15.4 C1869.8 17.1 1867.6 18.8 1866.3 20.5 C1865.1 22.2 1863.3 23.9 1862.9 25.6 C1862.5 27.3 1864.9 30.2 1863.8 30.8 C1862.6 31.3 1858.1 30.0 1856.1 29.1 C1854.1 28.1 1852.5 26.3 1851.8 24.8 C1851.1 23.2 1851.2 21.4 1851.8 19.7Z" fill="#f26c42" />
<path d="M1969.7 14.0 C1970.1 12.4 1970.9 10.9 1973.5 10.6 C1976.1 10.3 1982.1 10.9 1985.1 12.0 C1988.1 13.0 1990.7 14.8 1991.3 17.1 C1991.8 19.4 1990.4 23.4 1988.5 25.6 C1986.7 27.9 1982.7 30.1 1980.0 30.4 C1977.3 30.7 1973.9 29.0 1972.5 27.3 C1971.0 25.7 1971.6 22.7 1971.1 20.5 C1970.6 18.3 1969.3 15.7 1969.7 14.0Z" fill="#ffffff" />
<path d="M1363.3 50.9 C1364.5 48.5 1355.8 48.0 1368.2 47.7 C1380.7 47.4 1414.1 49.0 1438.0 49.1 C1461.9 49.2 1488.2 48.5 1511.5 48.4 C1534.8 48.3 1562.1 48.6 1578.0 48.7 C1593.9 48.8 1600.7 48.1 1607.0 49.1 C1613.3 50.1 1614.0 52.0 1615.6 54.5 C1617.2 57.0 1616.4 60.3 1616.8 64.4 C1617.2 68.5 1617.6 68.4 1618.0 79.0 C1618.4 89.6 1618.9 111.7 1619.3 128.0 C1619.7 144.3 1620.9 165.6 1620.5 177.0 C1620.1 188.4 1617.0 191.7 1616.8 196.6 C1616.6 201.5 1618.7 203.1 1619.3 206.4 C1619.9 209.7 1620.9 213.3 1620.5 216.2 C1620.1 219.0 1619.0 222.9 1616.8 223.5 C1614.5 224.1 1610.7 220.7 1607.0 219.9 C1603.3 219.1 1598.5 218.5 1594.8 218.6 C1591.1 218.7 1590.7 220.2 1585.0 220.6 C1579.3 221.0 1567.5 221.2 1560.5 221.1 C1553.5 221.0 1547.8 220.6 1543.3 219.9 C1538.8 219.2 1536.3 217.1 1533.5 216.7 C1530.7 216.3 1529.0 216.7 1526.2 217.4 C1523.4 218.1 1520.9 220.3 1516.4 221.1 C1511.9 221.9 1508.2 222.2 1499.2 222.3 C1490.2 222.4 1476.7 221.8 1462.4 221.6 C1448.1 221.4 1425.6 221.6 1413.4 221.1 C1401.2 220.6 1395.1 218.7 1389.0 218.6 C1382.9 218.5 1380.4 220.0 1376.7 220.6 C1373.0 221.2 1369.0 222.6 1366.9 222.3 C1364.9 222.0 1365.0 222.1 1364.4 218.6 C1363.8 215.1 1363.8 208.4 1363.2 201.5 C1362.6 194.6 1361.5 185.2 1360.8 177.0 C1360.1 168.8 1359.5 160.6 1359.0 152.4 C1358.5 144.2 1357.5 136.2 1357.6 128.0 C1357.7 119.8 1358.8 111.6 1359.5 103.4 C1360.2 95.2 1361.3 85.9 1361.5 79.0 C1361.7 72.1 1360.5 66.6 1360.8 61.9 C1361.1 57.2 1362.1 53.3 1363.3 50.9Z" fill="#ffcdb8"/>
<g clip-path="url(#pc0)">
<path d="M1376.8 110.8 C1377.6 108.4 1378.4 104.2 1380.4 102.3 C1382.5 100.4 1386.1 99.3 1389.0 99.3 C1391.9 99.3 1395.5 100.4 1397.6 102.3 C1399.6 104.2 1400.8 107.8 1401.2 110.8 C1401.7 113.9 1401.0 118.0 1400.0 120.6 C1399.0 123.3 1397.4 125.5 1395.1 126.8 C1392.9 128.0 1389.4 128.4 1386.5 128.0 C1383.7 127.6 1379.9 126.2 1378.0 124.3 C1376.1 122.5 1375.2 119.2 1375.0 117.0 C1374.8 114.7 1375.9 113.3 1376.8 110.8Z" fill="#ffffff" />
<path d="M1385.5 92.0 C1384.8 91.8 1383.9 91.2 1383.7 90.7 C1383.5 90.1 1383.8 89.3 1384.2 88.7 C1384.5 88.1 1385.1 87.4 1385.8 87.2 C1386.4 87.0 1387.6 87.1 1388.2 87.4 C1388.8 87.7 1389.3 88.4 1389.5 89.0 C1389.8 89.6 1390.0 90.5 1389.6 91.0 C1389.3 91.5 1388.4 91.9 1387.7 92.1 C1387.0 92.3 1386.1 92.3 1385.5 92.0Z" fill="#ffffff"/>
<path d="M1405.7 125.0 C1405.3 123.9 1405.2 122.5 1405.6 121.5 C1405.9 120.4 1406.8 119.2 1407.9 118.7 C1408.9 118.1 1410.6 117.9 1411.7 118.3 C1412.7 118.7 1413.6 120.1 1414.0 121.2 C1414.5 122.3 1414.6 123.7 1414.2 124.8 C1413.8 125.9 1412.9 127.1 1411.9 127.7 C1410.8 128.2 1409.0 128.5 1407.9 128.0 C1406.9 127.5 1406.1 126.0 1405.7 125.0Z" fill="#ffffff"/>
<path d="M1481.6 96.2 C1481.8 94.1 1483.0 91.5 1484.5 90.0 C1486.1 88.6 1489.1 88.5 1490.7 87.6 C1492.2 86.6 1492.8 84.2 1493.9 84.4 C1494.9 84.6 1496.0 86.8 1496.8 88.8 C1497.6 90.8 1499.0 93.8 1498.8 96.2 C1498.6 98.5 1497.3 101.6 1495.6 103.0 C1493.8 104.4 1490.3 104.8 1488.2 104.7 C1486.2 104.6 1484.4 103.7 1483.3 102.3 C1482.2 100.8 1481.4 98.2 1481.6 96.2Z" fill="#ffffff" />
<path d="M1613.9 69.2 C1612.6 70.4 1608.6 73.7 1605.8 76.5 C1603.0 79.4 1600.3 81.9 1597.2 86.3 C1594.2 90.8 1590.0 96.6 1587.5 103.5 C1584.9 110.4 1582.5 121.1 1582.1 128.0 C1581.7 134.9 1582.9 141.1 1585.0 145.1 C1587.1 149.2 1592.3 149.4 1594.8 152.5 C1597.2 155.6 1597.7 159.8 1599.7 163.5 C1601.7 167.2 1604.7 171.7 1607.0 174.6 C1609.4 177.4 1612.8 179.9 1613.9 180.9Z" fill="#fff"/>
<path d="M1391.5 177.0 C1391.0 172.5 1391.2 167.4 1392.7 163.5 C1394.1 159.6 1397.0 156.2 1400.0 153.7 C1403.1 151.3 1407.0 149.8 1411.0 148.8 C1415.1 147.8 1420.9 147.2 1424.5 147.6 C1428.2 148.0 1431.2 148.8 1433.1 151.3 C1435.0 153.7 1435.8 158.4 1436.0 162.3 C1436.2 166.2 1435.4 170.9 1434.3 174.6 C1433.2 178.2 1431.3 181.5 1429.4 184.3 C1427.6 187.2 1426.0 189.5 1423.3 191.7 C1420.6 193.9 1417.0 197.0 1413.5 197.8 C1410.0 198.6 1405.5 197.8 1402.5 196.6 C1399.4 195.4 1397.0 193.7 1395.1 190.5 C1393.3 187.2 1391.9 181.5 1391.5 177.0Z" fill="#ffffff" />
<path d="M1501.7 168.4 C1502.3 166.2 1505.8 164.7 1509.0 163.5 C1512.3 162.4 1517.2 161.6 1521.3 161.6 C1525.4 161.6 1530.7 162.0 1533.5 163.5 C1536.4 165.1 1538.0 168.0 1538.5 170.9 C1538.9 173.7 1537.4 178.0 1536.0 180.7 C1534.6 183.3 1532.1 184.6 1529.9 186.8 C1527.6 189.0 1525.0 192.6 1522.5 193.7 C1520.1 194.7 1517.4 194.1 1515.2 192.9 C1512.9 191.8 1510.7 189.5 1509.0 186.8 C1507.4 184.1 1506.6 180.1 1505.4 177.0 C1504.2 173.9 1501.1 170.7 1501.7 168.4Z" fill="#ffffff" />
<path d="M1457.6 190.5 C1458.4 188.9 1461.1 189.1 1462.5 189.7 C1463.9 190.4 1465.4 192.4 1466.2 194.2 C1466.9 195.9 1467.3 198.3 1466.9 200.3 C1466.5 202.2 1464.9 205.1 1463.7 205.9 C1462.5 206.7 1460.6 206.3 1459.6 205.2 C1458.5 204.0 1457.9 201.5 1457.6 199.0 C1457.3 196.6 1456.8 192.0 1457.6 190.5Z" fill="#ffffff" />
<path d="M1370.3 194.7 C1370.7 194.0 1371.5 193.0 1372.2 192.8 C1372.9 192.6 1374.0 193.2 1374.8 193.5 C1375.5 193.9 1376.6 194.4 1376.8 195.1 C1377.1 195.8 1376.7 196.9 1376.2 197.5 C1375.8 198.2 1375.0 198.7 1374.3 198.9 C1373.5 199.1 1372.5 199.0 1371.8 198.7 C1371.2 198.4 1370.4 197.7 1370.2 197.0 C1369.9 196.3 1370.0 195.4 1370.3 194.7Z" fill="#ffffff"/>
<path d="M1510.6 60.3 C1511.2 60.4 1512.3 60.7 1512.5 61.3 C1512.8 61.8 1512.6 62.9 1512.2 63.3 C1511.7 63.7 1510.6 63.8 1509.9 63.9 C1509.1 63.9 1508.0 63.7 1507.7 63.3 C1507.4 63.0 1507.7 62.0 1507.9 61.6 C1508.2 61.1 1508.5 60.7 1508.9 60.5 C1509.4 60.3 1510.0 60.2 1510.6 60.3Z" fill="#9a9da0"/>
<path d="M1541.4 57.8 C1541.0 57.8 1540.3 57.6 1540.0 57.4 C1539.6 57.2 1539.5 56.8 1539.4 56.5 C1539.4 56.2 1539.4 55.7 1539.7 55.5 C1540.0 55.3 1540.8 55.2 1541.2 55.3 C1541.6 55.4 1541.9 55.7 1542.2 56.0 C1542.5 56.2 1542.9 56.7 1542.8 57.0 C1542.7 57.3 1541.9 57.7 1541.4 57.8Z" fill="#9a9da0"/>
<path d="M1555.1 123.4 C1555.7 123.3 1556.3 123.1 1556.7 123.2 C1557.1 123.4 1557.5 123.8 1557.6 124.2 C1557.7 124.6 1557.7 125.2 1557.3 125.4 C1556.9 125.7 1555.8 125.8 1555.3 125.7 C1554.8 125.6 1554.5 125.2 1554.2 124.9 C1553.8 124.5 1553.0 124.0 1553.1 123.8 C1553.3 123.5 1554.5 123.5 1555.1 123.4Z" fill="#9a9da0"/>
<path d="M1465.4 133.8 C1464.8 134.2 1463.7 134.7 1463.0 134.6 C1462.3 134.6 1461.7 133.9 1461.3 133.5 C1460.8 133.2 1460.0 132.7 1460.2 132.5 C1460.4 132.2 1461.6 132.1 1462.4 132.0 C1463.2 131.8 1464.2 131.4 1465.0 131.5 C1465.7 131.6 1466.9 132.2 1467.0 132.6 C1467.0 133.0 1466.1 133.5 1465.4 133.8Z" fill="#9a9da0"/>
<path d="M1546.2 172.6 C1546.6 171.6 1547.8 171.5 1548.5 171.3 C1549.3 171.1 1550.2 170.5 1550.7 171.1 C1551.3 171.8 1551.6 173.8 1551.6 175.1 C1551.6 176.3 1551.1 178.0 1550.6 178.7 C1550.1 179.4 1549.2 179.4 1548.4 179.2 C1547.7 179.0 1546.6 178.5 1546.2 177.4 C1545.9 176.3 1545.8 173.6 1546.2 172.6Z" fill="#9a9da0"/>
<path d="M1537.4 187.4 C1537.8 188.6 1538.1 190.5 1537.5 191.2 C1536.9 191.9 1535.1 191.5 1533.9 191.6 C1532.7 191.8 1531.1 192.7 1530.2 192.2 C1529.4 191.6 1528.9 189.7 1529.0 188.3 C1529.0 187.0 1529.5 184.8 1530.5 184.1 C1531.5 183.3 1534.0 183.4 1535.2 183.9 C1536.3 184.5 1537.0 186.1 1537.4 187.4Z" fill="#9a9da0"/>
<path d="M1553.9 199.5 C1553.4 199.4 1552.3 198.8 1552.2 198.2 C1552.0 197.5 1552.8 196.5 1553.0 195.7 C1553.3 194.9 1553.5 193.8 1553.9 193.6 C1554.3 193.4 1555.1 194.2 1555.4 194.7 C1555.8 195.2 1556.0 196.0 1556.0 196.6 C1556.0 197.2 1555.7 197.8 1555.3 198.3 C1555.0 198.8 1554.5 199.5 1553.9 199.5Z" fill="#9a9da0"/>
<path d="M1572.9 189.6 C1573.3 189.6 1573.7 189.7 1573.9 189.9 C1574.2 190.2 1574.3 190.5 1574.2 190.8 C1574.2 191.2 1573.8 191.9 1573.5 191.9 C1573.1 192.0 1572.5 191.4 1572.1 191.2 C1571.7 191.0 1571.2 190.9 1571.1 190.6 C1571.0 190.3 1571.2 189.8 1571.5 189.6 C1571.8 189.4 1572.5 189.5 1572.9 189.6Z" fill="#9a9da0"/>
<path d="M1577.5 181.7 C1577.8 182.2 1578.0 183.0 1577.9 183.5 C1577.8 183.9 1577.3 184.2 1576.9 184.4 C1576.6 184.6 1576.3 184.8 1576.0 184.6 C1575.7 184.5 1575.5 184.0 1575.4 183.6 C1575.2 183.1 1575.0 182.3 1575.2 181.9 C1575.3 181.4 1575.9 180.9 1576.3 180.9 C1576.7 180.8 1577.3 181.3 1577.5 181.7Z" fill="#9a9da0"/>
<path d="M1433.2 191.7 C1433.0 192.0 1432.6 192.1 1432.3 192.0 C1432.1 191.9 1431.8 191.5 1431.7 191.1 C1431.6 190.7 1431.4 190.0 1431.5 189.5 C1431.7 189.1 1432.1 188.5 1432.4 188.4 C1432.7 188.4 1433.1 188.9 1433.3 189.2 C1433.5 189.6 1433.4 190.1 1433.4 190.5 C1433.4 190.9 1433.3 191.5 1433.2 191.7Z" fill="#9a9da0"/>
<path d="M1387.7 199.5 C1387.3 199.0 1386.9 198.3 1387.1 197.7 C1387.4 197.1 1388.2 196.0 1389.0 195.8 C1389.9 195.6 1391.6 196.1 1392.3 196.5 C1393.0 197.0 1393.4 197.8 1393.4 198.4 C1393.5 199.1 1393.2 199.9 1392.5 200.3 C1391.9 200.8 1390.5 201.1 1389.6 201.0 C1388.8 200.9 1388.1 200.1 1387.7 199.5Z" fill="#9a9da0"/>
<path d="M1480.7 160.7 C1480.6 161.2 1479.5 162.0 1478.8 162.1 C1478.2 162.2 1477.0 161.9 1476.6 161.4 C1476.2 160.9 1476.0 159.6 1476.2 159.1 C1476.5 158.5 1477.5 158.1 1478.1 158.0 C1478.7 158.0 1479.4 158.2 1479.8 158.7 C1480.3 159.1 1480.9 160.1 1480.7 160.7Z" fill="#f0452e"/>
<path d="M1485.5 156.9 C1485.1 157.3 1483.9 157.2 1483.4 157.1 C1482.8 156.9 1482.3 156.5 1482.1 156.1 C1481.9 155.6 1481.8 154.7 1482.1 154.3 C1482.4 153.9 1483.2 153.6 1483.8 153.7 C1484.3 153.8 1485.1 154.1 1485.4 154.7 C1485.7 155.2 1485.8 156.5 1485.5 156.9Z" fill="#f0452e"/>
<path d="M1487.8 158.3 C1487.6 158.9 1487.2 159.3 1486.8 159.4 C1486.4 159.5 1485.7 159.2 1485.4 158.9 C1485.1 158.5 1484.7 157.7 1484.8 157.3 C1485.0 156.9 1485.7 156.7 1486.2 156.5 C1486.8 156.3 1488.1 156.0 1488.3 156.3 C1488.6 156.6 1488.1 157.8 1487.8 158.3Z" fill="#f0452e"/>
</g>
<path d="M1363.3 50.9 C1364.5 48.5 1355.8 48.0 1368.2 47.7 C1380.7 47.4 1414.1 49.0 1438.0 49.1 C1461.9 49.2 1488.2 48.5 1511.5 48.4 C1534.8 48.3 1562.1 48.6 1578.0 48.7 C1593.9 48.8 1600.7 48.1 1607.0 49.1 C1613.3 50.1 1614.0 52.0 1615.6 54.5 C1617.2 57.0 1616.4 60.3 1616.8 64.4 C1617.2 68.5 1617.6 68.4 1618.0 79.0 C1618.4 89.6 1618.9 111.7 1619.3 128.0 C1619.7 144.3 1620.9 165.6 1620.5 177.0 C1620.1 188.4 1617.0 191.7 1616.8 196.6 C1616.6 201.5 1618.7 203.1 1619.3 206.4 C1619.9 209.7 1620.9 213.3 1620.5 216.2 C1620.1 219.0 1619.0 222.9 1616.8 223.5 C1614.5 224.1 1610.7 220.7 1607.0 219.9 C1603.3 219.1 1598.5 218.5 1594.8 218.6 C1591.1 218.7 1590.7 220.2 1585.0 220.6 C1579.3 221.0 1567.5 221.2 1560.5 221.1 C1553.5 221.0 1547.8 220.6 1543.3 219.9 C1538.8 219.2 1536.3 217.1 1533.5 216.7 C1530.7 216.3 1529.0 216.7 1526.2 217.4 C1523.4 218.1 1520.9 220.3 1516.4 221.1 C1511.9 221.9 1508.2 222.2 1499.2 222.3 C1490.2 222.4 1476.7 221.8 1462.4 221.6 C1448.1 221.4 1425.6 221.6 1413.4 221.1 C1401.2 220.6 1395.1 218.7 1389.0 218.6 C1382.9 218.5 1380.4 220.0 1376.7 220.6 C1373.0 221.2 1369.0 222.6 1366.9 222.3 C1364.9 222.0 1365.0 222.1 1364.4 218.6 C1363.8 215.1 1363.8 208.4 1363.2 201.5 C1362.6 194.6 1361.5 185.2 1360.8 177.0 C1360.1 168.8 1359.5 160.6 1359.0 152.4 C1358.5 144.2 1357.5 136.2 1357.6 128.0 C1357.7 119.8 1358.8 111.6 1359.5 103.4 C1360.2 95.2 1361.3 85.9 1361.5 79.0 C1361.7 72.1 1360.5 66.6 1360.8 61.9 C1361.1 57.2 1362.1 53.3 1363.3 50.9Z" fill="none" stroke="#1f62c0" stroke-width="2.3" stroke-dasharray="8.5 4.5"/>
<path d="M1363.3 249.5 C1364.5 247.1 1355.8 246.6 1368.2 246.3 C1380.7 246.0 1414.1 247.6 1438.0 247.7 C1461.9 247.8 1487.8 247.1 1511.5 247.0 C1535.2 246.9 1563.8 247.2 1580.0 247.3 C1596.2 247.4 1602.7 246.7 1609.0 247.7 C1615.3 248.7 1616.0 250.5 1617.6 253.1 C1619.2 255.7 1618.4 258.9 1618.8 263.0 C1619.2 267.1 1619.6 267.0 1620.0 277.6 C1620.4 288.2 1620.9 310.3 1621.3 326.6 C1621.7 342.9 1622.9 363.9 1622.5 375.6 C1622.1 387.3 1619.0 391.5 1618.8 396.6 C1618.6 401.7 1620.7 403.1 1621.3 406.4 C1621.9 409.7 1622.9 413.3 1622.5 416.2 C1622.1 419.1 1621.0 422.9 1618.8 423.5 C1616.5 424.1 1612.7 420.7 1609.0 419.9 C1605.3 419.1 1600.5 418.5 1596.8 418.6 C1593.1 418.7 1592.7 420.2 1587.0 420.6 C1581.3 421.0 1569.5 421.2 1562.5 421.1 C1555.5 421.0 1549.8 420.6 1545.3 419.9 C1540.8 419.2 1538.3 417.1 1535.5 416.7 C1532.7 416.3 1531.0 416.7 1528.2 417.4 C1525.4 418.1 1522.9 420.3 1518.4 421.1 C1513.9 421.9 1510.5 422.2 1501.2 422.3 C1491.9 422.4 1477.0 421.8 1462.4 421.6 C1447.8 421.4 1425.6 421.6 1413.4 421.1 C1401.2 420.6 1395.1 418.7 1389.0 418.6 C1382.9 418.5 1380.4 420.0 1376.7 420.6 C1373.0 421.2 1369.0 422.6 1366.9 422.3 C1364.9 422.0 1365.0 422.1 1364.4 418.6 C1363.8 415.1 1363.8 408.4 1363.2 401.5 C1362.6 394.6 1361.5 385.4 1360.8 377.0 C1360.1 368.6 1359.5 359.4 1359.0 351.0 C1358.5 342.6 1357.5 334.8 1357.6 326.6 C1357.7 318.4 1358.8 310.2 1359.5 302.0 C1360.2 293.8 1361.3 284.5 1361.5 277.6 C1361.7 270.7 1360.5 265.2 1360.8 260.5 C1361.1 255.8 1362.1 251.9 1363.3 249.5Z" fill="#ffcdb8"/>
<g clip-path="url(#pc1)">
<path d="M1381.3 265.6 C1381.9 265.0 1382.6 264.4 1383.4 264.3 C1384.2 264.2 1385.4 264.5 1386.0 265.0 C1386.7 265.5 1387.3 266.7 1387.3 267.4 C1387.3 268.2 1386.6 269.0 1386.1 269.8 C1385.5 270.6 1384.9 272.0 1384.0 272.2 C1383.1 272.5 1381.2 272.1 1380.5 271.4 C1379.8 270.6 1379.8 268.9 1379.9 268.0 C1380.0 267.0 1380.7 266.2 1381.3 265.6Z" fill="#c9cbcd"/>
<path d="M1443.9 290.8 C1444.0 290.1 1444.1 289.6 1444.5 289.1 C1444.8 288.7 1445.5 288.1 1446.1 288.0 C1446.7 287.9 1447.5 288.3 1448.1 288.6 C1448.8 289.0 1449.9 289.6 1450.0 290.2 C1450.0 290.8 1449.0 291.6 1448.4 292.0 C1447.8 292.4 1447.4 292.4 1446.6 292.6 C1445.9 292.8 1444.4 293.5 1444.0 293.2 C1443.6 292.8 1443.9 291.4 1443.9 290.8Z" fill="#c9cbcd"/>
<path d="M1398.3 306.5 C1398.4 305.8 1398.5 304.6 1399.1 304.3 C1399.8 304.0 1401.0 304.5 1401.9 304.6 C1402.8 304.7 1403.9 304.6 1404.6 305.1 C1405.3 305.6 1406.2 306.8 1406.1 307.6 C1406.0 308.4 1404.9 309.5 1404.0 309.9 C1403.1 310.4 1401.6 310.5 1400.7 310.3 C1399.8 310.0 1399.0 309.1 1398.6 308.5 C1398.2 307.9 1398.2 307.2 1398.3 306.5Z" fill="#c9cbcd"/>
<path d="M1416.1 309.6 C1415.3 309.0 1414.0 308.5 1413.9 307.8 C1413.7 307.1 1414.6 306.0 1415.3 305.3 C1416.0 304.7 1417.1 303.8 1418.0 303.8 C1418.9 303.8 1420.0 304.7 1420.6 305.3 C1421.2 305.9 1421.4 306.6 1421.6 307.4 C1421.7 308.2 1422.1 309.4 1421.6 310.2 C1421.1 310.9 1419.4 311.8 1418.5 311.7 C1417.6 311.6 1416.9 310.3 1416.1 309.6Z" fill="#c9cbcd"/>
<path d="M1432.5 312.9 C1433.3 313.3 1434.1 314.8 1434.2 315.8 C1434.4 316.8 1433.9 318.4 1433.3 319.1 C1432.6 319.7 1431.2 319.7 1430.3 319.8 C1429.3 319.9 1428.1 320.1 1427.4 319.6 C1426.8 319.1 1426.2 317.8 1426.2 317.0 C1426.2 316.1 1426.9 315.3 1427.4 314.7 C1427.9 314.1 1428.5 313.8 1429.4 313.5 C1430.2 313.2 1431.6 312.5 1432.5 312.9Z" fill="#c9cbcd"/>
<path d="M1470.1 307.0 C1469.0 306.9 1467.5 306.7 1466.8 305.9 C1466.0 305.1 1465.2 303.2 1465.4 302.2 C1465.7 301.1 1467.3 300.3 1468.3 299.6 C1469.4 298.9 1470.6 297.8 1471.8 297.8 C1472.9 297.9 1474.6 299.0 1475.3 300.0 C1476.0 301.1 1476.5 303.1 1476.1 304.2 C1475.8 305.2 1474.1 306.1 1473.1 306.6 C1472.1 307.0 1471.1 307.1 1470.1 307.0Z" fill="#c9cbcd"/>
<path d="M1490.4 298.8 C1489.3 298.9 1488.1 298.6 1487.2 297.8 C1486.4 297.1 1485.8 295.7 1485.4 294.2 C1485.1 292.8 1484.7 290.7 1485.2 289.2 C1485.7 287.7 1487.2 285.8 1488.5 285.3 C1489.8 284.9 1491.9 285.7 1492.9 286.8 C1493.9 287.9 1494.3 290.2 1494.5 292.0 C1494.6 293.7 1494.7 296.1 1494.0 297.2 C1493.4 298.4 1491.5 298.7 1490.4 298.8Z" fill="#c9cbcd"/>
<path d="M1461.7 319.0 C1462.7 319.3 1463.9 319.3 1464.5 319.9 C1465.1 320.5 1465.5 321.9 1465.3 322.8 C1465.0 323.6 1463.8 324.5 1462.8 324.9 C1461.9 325.3 1460.4 325.4 1459.5 325.1 C1458.6 324.8 1457.7 323.8 1457.4 323.1 C1457.1 322.3 1457.5 321.5 1457.7 320.7 C1457.9 319.9 1458.1 318.4 1458.8 318.2 C1459.4 317.9 1460.8 318.8 1461.7 319.0Z" fill="#c9cbcd"/>
<path d="M1393.3 333.1 C1392.1 332.7 1390.4 331.2 1390.2 330.1 C1389.9 329.0 1391.2 327.5 1392.0 326.6 C1392.8 325.6 1393.7 325.0 1394.8 324.6 C1396.0 324.1 1398.0 323.5 1399.1 323.9 C1400.2 324.4 1401.3 326.2 1401.4 327.3 C1401.5 328.4 1400.4 329.7 1399.7 330.5 C1399.0 331.3 1398.2 331.7 1397.2 332.1 C1396.1 332.6 1394.4 333.4 1393.3 333.1Z" fill="#c9cbcd"/>
<path d="M1429.4 341.8 C1428.6 342.9 1426.6 343.4 1425.7 342.9 C1424.7 342.3 1424.3 339.9 1423.6 338.5 C1423.0 337.0 1421.7 335.7 1421.6 334.0 C1421.6 332.4 1422.5 329.6 1423.4 328.6 C1424.3 327.6 1426.2 327.7 1427.2 328.2 C1428.2 328.7 1429.0 330.3 1429.6 331.7 C1430.2 333.1 1430.7 334.7 1430.7 336.4 C1430.7 338.1 1430.2 340.7 1429.4 341.8Z" fill="#c9cbcd"/>
<path d="M1434.7 346.7 C1433.8 347.5 1433.2 349.3 1432.2 349.4 C1431.3 349.5 1429.7 348.3 1428.9 347.4 C1428.2 346.6 1428.0 345.5 1427.9 344.4 C1427.9 343.4 1428.0 341.7 1428.8 341.1 C1429.5 340.5 1431.3 340.8 1432.6 340.8 C1433.8 340.9 1435.5 340.8 1436.3 341.5 C1437.1 342.1 1437.8 343.9 1437.6 344.8 C1437.3 345.6 1435.6 346.0 1434.7 346.7Z" fill="#c9cbcd"/>
<path d="M1460.0 350.9 C1458.3 351.1 1456.7 351.1 1455.5 350.4 C1454.3 349.7 1453.5 348.1 1453.0 346.7 C1452.5 345.2 1451.9 342.9 1452.6 341.7 C1453.3 340.5 1455.6 339.9 1457.2 339.6 C1458.7 339.3 1460.7 339.1 1461.9 339.8 C1463.0 340.5 1463.2 342.3 1463.8 343.9 C1464.4 345.5 1466.1 348.2 1465.5 349.4 C1464.8 350.5 1461.7 350.7 1460.0 350.9Z" fill="#c9cbcd"/>
<path d="M1477.9 351.3 C1476.6 350.6 1475.4 349.2 1475.0 347.8 C1474.6 346.4 1474.5 344.0 1475.5 343.0 C1476.5 342.0 1479.1 342.0 1481.0 341.8 C1482.9 341.5 1485.5 341.0 1486.7 341.7 C1488.0 342.5 1488.4 344.8 1488.4 346.3 C1488.5 347.7 1488.2 349.4 1487.2 350.4 C1486.3 351.5 1484.3 352.4 1482.8 352.6 C1481.2 352.7 1479.2 352.1 1477.9 351.3Z" fill="#c9cbcd"/>
<path d="M1495.0 329.5 C1494.8 331.2 1493.8 332.9 1493.0 333.8 C1492.2 334.6 1491.4 334.4 1490.3 334.4 C1489.3 334.5 1487.3 335.3 1486.7 334.2 C1486.2 333.1 1486.8 329.8 1487.0 327.9 C1487.3 326.0 1487.3 323.9 1488.0 322.6 C1488.7 321.3 1490.2 319.9 1491.3 320.1 C1492.3 320.2 1493.7 322.1 1494.3 323.7 C1494.9 325.3 1495.2 327.8 1495.0 329.5Z" fill="#c9cbcd"/>
<path d="M1386.2 364.7 C1385.0 364.2 1383.9 363.2 1383.4 362.2 C1382.8 361.1 1382.5 359.2 1383.2 358.5 C1383.8 357.7 1386.1 357.7 1387.4 357.4 C1388.8 357.1 1390.4 356.3 1391.4 356.7 C1392.4 357.1 1393.1 358.6 1393.4 359.6 C1393.7 360.6 1393.6 361.6 1393.2 362.6 C1392.7 363.6 1391.9 365.2 1390.7 365.6 C1389.5 365.9 1387.4 365.3 1386.2 364.7Z" fill="#c9cbcd"/>
<path d="M1393.5 351.7 C1393.5 350.4 1394.0 348.7 1395.0 347.7 C1396.0 346.8 1398.1 345.7 1399.5 345.9 C1400.9 346.1 1402.3 347.6 1403.2 348.6 C1404.1 349.7 1405.1 351.0 1405.0 352.2 C1405.0 353.3 1404.0 354.8 1402.9 355.6 C1401.9 356.4 1400.3 356.9 1398.9 356.9 C1397.6 356.9 1395.6 356.5 1394.7 355.6 C1393.8 354.7 1393.4 353.0 1393.5 351.7Z" fill="#c9cbcd"/>
<path d="M1418.9 370.7 C1418.5 369.1 1418.8 367.0 1419.4 365.2 C1420.0 363.4 1421.0 360.7 1422.2 360.1 C1423.5 359.5 1425.7 360.5 1427.1 361.5 C1428.5 362.5 1430.0 364.1 1430.5 366.0 C1431.0 367.8 1431.0 371.2 1430.2 372.6 C1429.4 374.1 1427.1 374.2 1425.7 374.6 C1424.2 375.0 1422.7 375.7 1421.6 375.1 C1420.4 374.4 1419.2 372.3 1418.9 370.7Z" fill="#c9cbcd"/>
<path d="M1410.5 378.2 C1410.8 379.6 1409.0 381.6 1408.1 382.8 C1407.2 384.0 1406.4 384.8 1405.1 385.3 C1403.8 385.9 1401.6 386.6 1400.5 386.1 C1399.4 385.6 1398.7 383.7 1398.3 382.4 C1397.9 381.1 1397.4 379.6 1397.9 378.5 C1398.4 377.5 1400.0 376.9 1401.3 376.2 C1402.7 375.6 1404.6 374.4 1406.2 374.7 C1407.7 375.0 1410.1 376.9 1410.5 378.2Z" fill="#c9cbcd"/>
<path d="M1417.4 386.4 C1418.5 386.7 1419.1 389.1 1419.9 390.4 C1420.7 391.7 1422.1 392.9 1422.0 394.2 C1421.9 395.4 1420.4 397.4 1419.3 397.9 C1418.1 398.5 1416.6 397.6 1415.1 397.4 C1413.6 397.1 1411.5 397.5 1410.5 396.5 C1409.5 395.5 1408.9 392.7 1409.4 391.5 C1409.8 390.2 1412.1 389.7 1413.4 388.9 C1414.8 388.1 1416.4 386.2 1417.4 386.4Z" fill="#c9cbcd"/>
<path d="M1401.7 402.9 C1402.0 403.7 1401.9 404.8 1401.5 405.8 C1401.1 406.7 1400.3 408.2 1399.3 408.6 C1398.2 409.0 1396.1 408.6 1395.2 408.0 C1394.4 407.4 1394.4 405.9 1394.1 404.9 C1393.9 404.0 1393.5 403.0 1393.9 402.2 C1394.2 401.5 1395.4 400.5 1396.3 400.3 C1397.3 400.0 1398.6 400.4 1399.5 400.8 C1400.4 401.3 1401.3 402.1 1401.7 402.9Z" fill="#c9cbcd"/>
<path d="M1459.7 400.4 C1458.8 400.7 1457.4 401.2 1456.8 400.9 C1456.1 400.5 1456.2 399.1 1455.9 398.2 C1455.6 397.4 1454.8 396.5 1455.1 395.8 C1455.3 395.1 1456.6 394.2 1457.4 394.1 C1458.1 394.0 1459.1 394.5 1459.8 394.9 C1460.6 395.3 1461.4 395.6 1461.8 396.2 C1462.2 396.9 1462.5 398.3 1462.2 399.0 C1461.8 399.6 1460.6 400.1 1459.7 400.4Z" fill="#c9cbcd"/>
<path d="M1463.6 397.6 C1463.6 396.6 1463.0 395.2 1463.5 394.6 C1464.0 394.0 1465.6 393.9 1466.6 394.0 C1467.7 394.1 1469.2 394.4 1469.7 395.1 C1470.1 395.8 1469.4 397.2 1469.2 398.0 C1469.0 398.8 1468.9 399.6 1468.4 400.0 C1467.9 400.4 1467.0 400.3 1466.1 400.3 C1465.3 400.4 1463.7 400.7 1463.3 400.2 C1462.8 399.8 1463.5 398.5 1463.6 397.6Z" fill="#c9cbcd"/>
<path d="M1477.5 408.9 C1476.2 408.7 1474.9 408.6 1473.9 407.7 C1472.9 406.8 1471.4 405.0 1471.5 403.6 C1471.5 402.2 1473.0 400.0 1474.2 399.3 C1475.4 398.7 1477.4 399.2 1478.7 399.6 C1480.0 400.0 1480.7 400.7 1481.7 401.6 C1482.7 402.6 1484.7 404.1 1484.7 405.3 C1484.7 406.5 1482.8 408.4 1481.6 409.0 C1480.4 409.6 1478.8 409.1 1477.5 408.9Z" fill="#c9cbcd"/>
<path d="M1491.6 372.5 C1492.8 372.4 1493.7 372.5 1494.9 372.8 C1496.1 373.2 1498.2 373.7 1498.7 374.6 C1499.2 375.5 1498.4 377.6 1497.7 378.5 C1496.9 379.4 1495.6 379.5 1494.3 380.0 C1493.0 380.6 1491.0 382.0 1489.9 381.7 C1488.7 381.4 1487.7 379.3 1487.3 377.9 C1486.9 376.6 1486.5 374.6 1487.3 373.7 C1488.0 372.8 1490.3 372.7 1491.6 372.5Z" fill="#c9cbcd"/>
<path d="M1500.8 414.8 C1500.4 415.4 1498.9 415.1 1498.0 415.4 C1497.1 415.6 1496.0 416.5 1495.4 416.2 C1494.8 416.0 1494.3 414.5 1494.2 413.7 C1494.1 412.9 1494.3 412.0 1494.7 411.3 C1495.1 410.6 1495.7 409.9 1496.5 409.6 C1497.3 409.2 1498.8 408.9 1499.4 409.4 C1500.0 409.8 1500.0 411.2 1500.2 412.1 C1500.4 413.0 1501.1 414.3 1500.8 414.8Z" fill="#c9cbcd"/>
<path d="M1535.7 268.4 C1535.4 268.7 1534.7 268.8 1534.3 268.7 C1533.8 268.6 1533.4 268.3 1533.2 267.9 C1532.9 267.6 1532.6 267.0 1532.7 266.5 C1532.7 266.1 1533.0 265.6 1533.3 265.2 C1533.5 264.9 1534.0 264.5 1534.4 264.5 C1534.8 264.5 1535.3 264.7 1535.6 265.1 C1535.9 265.4 1536.1 266.1 1536.1 266.6 C1536.1 267.2 1536.0 268.0 1535.7 268.4Z" fill="#c9cbcd"/>
<path d="M1583.3 266.6 C1584.4 266.7 1585.8 266.8 1586.4 267.2 C1587.0 267.6 1586.9 268.4 1586.8 268.9 C1586.7 269.5 1586.4 270.2 1585.8 270.5 C1585.1 270.8 1583.8 270.7 1582.9 270.7 C1581.9 270.6 1580.7 270.6 1580.2 270.2 C1579.6 269.9 1579.8 269.3 1579.7 268.7 C1579.7 268.1 1579.2 267.1 1579.8 266.8 C1580.4 266.4 1582.2 266.6 1583.3 266.6Z" fill="#c9cbcd"/>
<path d="M1564.9 282.9 C1565.4 281.6 1565.8 280.3 1566.9 279.4 C1568.0 278.6 1570.4 277.4 1571.4 277.9 C1572.5 278.4 1572.6 280.9 1573.3 282.3 C1574.0 283.7 1575.7 285.2 1575.4 286.3 C1575.2 287.5 1573.0 288.6 1571.7 289.1 C1570.4 289.6 1569.0 289.9 1567.6 289.6 C1566.2 289.3 1564.0 288.3 1563.6 287.2 C1563.1 286.1 1564.3 284.2 1564.9 282.9Z" fill="#c9cbcd"/>
<path d="M1507.1 300.7 C1506.2 299.8 1505.5 298.3 1505.5 297.0 C1505.5 295.7 1506.1 293.4 1507.2 292.8 C1508.3 292.1 1510.5 292.8 1512.1 293.1 C1513.6 293.3 1515.6 293.1 1516.5 294.0 C1517.5 294.9 1517.8 296.9 1517.6 298.2 C1517.3 299.5 1516.3 301.1 1515.2 301.8 C1514.1 302.5 1512.2 302.5 1510.9 302.3 C1509.6 302.2 1508.1 301.6 1507.1 300.7Z" fill="#c9cbcd"/>
<path d="M1543.8 301.4 C1543.2 300.8 1542.7 300.3 1542.6 299.7 C1542.4 299.0 1542.8 298.3 1543.1 297.6 C1543.5 296.8 1544.0 295.4 1544.7 295.3 C1545.4 295.1 1546.6 296.1 1547.2 296.6 C1547.8 297.2 1548.2 298.0 1548.3 298.7 C1548.4 299.4 1548.1 300.0 1547.7 300.8 C1547.3 301.5 1546.8 303.1 1546.1 303.3 C1545.5 303.4 1544.4 302.0 1543.8 301.4Z" fill="#c9cbcd"/>
<path d="M1592.3 298.8 C1593.0 300.0 1593.1 303.2 1593.0 305.1 C1592.9 307.1 1592.5 309.1 1591.9 310.3 C1591.2 311.6 1590.1 312.7 1589.2 312.8 C1588.2 313.0 1586.7 312.5 1586.1 311.3 C1585.4 310.1 1585.4 307.5 1585.4 305.6 C1585.4 303.7 1585.3 301.1 1585.9 299.8 C1586.5 298.6 1587.9 298.2 1588.9 298.0 C1590.0 297.9 1591.7 297.6 1592.3 298.8Z" fill="#c9cbcd"/>
<path d="M1615.4 327.3 C1615.7 328.3 1614.8 330.1 1614.2 331.0 C1613.5 331.8 1612.6 332.0 1611.6 332.4 C1610.6 332.8 1609.0 333.8 1608.3 333.3 C1607.6 332.9 1607.5 330.7 1607.4 329.6 C1607.3 328.5 1607.2 327.2 1607.7 326.5 C1608.1 325.8 1609.2 325.7 1610.1 325.4 C1610.9 325.2 1611.8 324.8 1612.7 325.1 C1613.5 325.4 1615.2 326.3 1615.4 327.3Z" fill="#c9cbcd"/>
<path d="M1578.7 337.2 C1578.5 336.3 1579.2 334.9 1579.7 333.9 C1580.1 333.0 1580.8 331.6 1581.4 331.5 C1582.1 331.4 1582.9 332.6 1583.4 333.4 C1584.0 334.1 1584.7 334.8 1584.9 335.7 C1585.0 336.6 1584.5 337.8 1584.1 338.7 C1583.7 339.6 1583.1 340.9 1582.5 341.1 C1581.9 341.2 1581.1 340.2 1580.5 339.5 C1579.8 338.9 1578.8 338.1 1578.7 337.2Z" fill="#c9cbcd"/>
<path d="M1530.0 347.9 C1529.7 348.7 1529.3 349.3 1528.6 349.8 C1527.9 350.3 1526.9 351.0 1526.0 350.9 C1525.1 350.9 1524.0 350.2 1523.4 349.5 C1522.8 348.8 1522.1 347.8 1522.2 346.9 C1522.3 346.1 1523.2 345.1 1524.1 344.6 C1524.9 344.1 1526.1 343.7 1527.2 343.8 C1528.2 343.9 1529.8 344.4 1530.3 345.1 C1530.7 345.8 1530.3 347.1 1530.0 347.9Z" fill="#c9cbcd"/>
<path d="M1553.3 358.5 C1552.6 357.5 1551.1 356.3 1551.2 355.4 C1551.3 354.5 1553.1 353.8 1554.0 353.1 C1554.9 352.4 1555.6 351.0 1556.4 351.0 C1557.3 350.9 1558.8 352.0 1559.2 352.9 C1559.7 353.7 1559.1 355.0 1559.0 356.2 C1559.0 357.4 1559.5 359.0 1558.9 359.9 C1558.4 360.7 1556.6 361.4 1555.6 361.2 C1554.7 360.9 1554.0 359.5 1553.3 358.5Z" fill="#c9cbcd"/>
<path d="M1490.1 324.7 C1490.6 323.2 1491.6 321.6 1492.3 321.9 C1492.9 322.2 1493.4 324.9 1493.8 326.4 C1494.3 327.9 1495.0 329.3 1495.0 331.0 C1495.1 332.6 1494.6 334.9 1494.2 336.4 C1493.7 337.9 1492.9 339.8 1492.2 339.9 C1491.5 340.0 1490.5 338.6 1489.9 337.1 C1489.4 335.6 1489.0 332.8 1489.0 330.7 C1489.0 328.7 1489.5 326.1 1490.1 324.7Z" fill="#c9cbcd"/>
<path d="M1489.8 374.4 C1490.2 373.3 1492.0 372.4 1493.2 372.1 C1494.4 371.8 1496.0 372.0 1496.9 372.7 C1497.7 373.4 1498.1 375.2 1498.1 376.3 C1498.2 377.4 1497.8 378.5 1497.4 379.3 C1496.9 380.1 1496.2 381.0 1495.4 381.3 C1494.5 381.7 1493.1 381.9 1492.4 381.4 C1491.6 380.9 1491.4 379.6 1491.0 378.4 C1490.6 377.2 1489.5 375.4 1489.8 374.4Z" fill="#c9cbcd"/>
<path d="M1511.8 396.3 C1512.4 396.6 1513.1 397.2 1513.2 397.8 C1513.4 398.4 1513.3 399.2 1512.9 399.8 C1512.6 400.3 1511.8 400.9 1511.1 401.0 C1510.5 401.1 1509.4 400.9 1509.0 400.5 C1508.5 400.2 1508.6 399.5 1508.4 398.9 C1508.1 398.3 1507.4 397.5 1507.7 397.0 C1507.9 396.5 1508.9 395.9 1509.6 395.8 C1510.3 395.7 1511.2 396.0 1511.8 396.3Z" fill="#c9cbcd"/>
<path d="M1576.3 400.5 C1576.4 398.4 1576.8 395.3 1577.5 394.2 C1578.3 393.1 1579.8 394.2 1580.9 394.2 C1582.1 394.2 1583.8 393.1 1584.4 394.2 C1585.1 395.3 1584.9 398.9 1584.7 400.8 C1584.5 402.6 1583.9 404.2 1583.3 405.4 C1582.6 406.6 1581.8 407.7 1580.8 408.0 C1579.8 408.3 1578.0 408.3 1577.3 407.1 C1576.6 405.9 1576.3 402.7 1576.3 400.5Z" fill="#c9cbcd"/>
<path d="M1501.9 418.7 C1500.3 419.1 1497.6 419.4 1496.3 418.8 C1495.0 418.2 1494.4 416.3 1494.1 415.2 C1493.9 414.0 1494.3 412.9 1494.9 411.9 C1495.6 411.0 1496.9 410.1 1498.3 409.7 C1499.7 409.4 1501.8 409.2 1503.2 409.7 C1504.6 410.2 1506.2 411.5 1506.6 412.6 C1507.0 413.6 1506.4 415.2 1505.6 416.2 C1504.8 417.2 1503.4 418.3 1501.9 418.7Z" fill="#c9cbcd"/>
<path d="M1431.3 252.0 C1431.5 251.8 1431.9 251.6 1432.3 251.7 C1432.6 251.7 1432.9 251.9 1433.2 252.3 C1433.4 252.6 1433.9 253.4 1433.8 253.7 C1433.6 254.0 1432.8 254.1 1432.3 254.2 C1431.8 254.3 1431.1 254.5 1430.9 254.2 C1430.7 254.0 1430.9 253.2 1431.0 252.9 C1431.0 252.5 1431.1 252.2 1431.3 252.0Z" fill="#f3704a"/>
<path d="M1460.0 265.4 C1459.7 266.3 1459.3 267.6 1458.6 268.0 C1457.8 268.4 1456.1 268.1 1455.3 267.5 C1454.5 267.0 1453.6 265.5 1453.7 264.6 C1453.7 263.8 1454.9 262.9 1455.6 262.3 C1456.3 261.7 1457.2 261.0 1458.0 261.0 C1458.8 261.1 1460.0 262.1 1460.3 262.8 C1460.6 263.5 1460.3 264.5 1460.0 265.4Z" fill="#f3704a"/>
<path d="M1371.4 271.6 C1371.3 270.5 1370.9 268.4 1371.0 267.8 C1371.2 267.2 1371.8 268.1 1372.2 268.1 C1372.6 268.1 1373.1 267.0 1373.4 267.7 C1373.6 268.4 1373.8 271.3 1373.6 272.2 C1373.5 273.2 1372.8 272.8 1372.4 273.2 C1372.1 273.5 1371.9 274.6 1371.7 274.4 C1371.5 274.1 1371.5 272.7 1371.4 271.6Z" fill="#f3704a"/>
<path d="M1395.5 275.2 C1395.9 275.4 1396.2 276.4 1396.2 276.9 C1396.2 277.3 1395.9 277.8 1395.6 278.1 C1395.3 278.3 1394.9 278.4 1394.3 278.5 C1393.8 278.6 1392.5 278.9 1392.2 278.7 C1392.0 278.4 1392.6 277.5 1392.8 277.0 C1393.0 276.5 1392.9 275.9 1393.4 275.6 C1393.8 275.3 1395.0 275.0 1395.5 275.2Z" fill="#f3704a"/>
<path d="M1421.6 277.9 C1420.7 278.6 1418.8 279.8 1418.0 279.6 C1417.2 279.3 1417.2 277.4 1416.7 276.4 C1416.1 275.5 1414.5 274.5 1414.7 273.8 C1415.0 273.1 1417.0 272.7 1418.2 272.4 C1419.5 272.2 1421.4 271.8 1422.3 272.3 C1423.2 272.8 1423.8 274.5 1423.6 275.4 C1423.5 276.4 1422.6 277.2 1421.6 277.9Z" fill="#f3704a"/>
<path d="M1490.0 286.2 C1489.4 286.3 1488.0 285.1 1487.7 284.5 C1487.3 283.9 1487.7 282.9 1487.9 282.4 C1488.1 281.8 1488.3 281.5 1488.7 281.1 C1489.1 280.7 1489.9 279.9 1490.5 279.9 C1491.1 280.0 1491.9 281.0 1492.1 281.7 C1492.3 282.3 1491.9 283.0 1491.6 283.8 C1491.2 284.5 1490.7 286.1 1490.0 286.2Z" fill="#f3704a"/>
<path d="M1447.0 304.7 C1446.6 305.2 1445.6 305.3 1444.7 305.3 C1443.9 305.2 1441.9 305.0 1441.8 304.4 C1441.6 303.8 1443.2 302.6 1443.6 301.6 C1444.0 300.7 1443.7 299.0 1444.4 298.6 C1445.1 298.2 1447.2 298.5 1447.7 299.2 C1448.2 299.8 1447.6 301.5 1447.4 302.5 C1447.3 303.4 1447.5 304.3 1447.0 304.7Z" fill="#f3704a"/>
<path d="M1372.9 324.7 C1373.8 325.6 1374.4 327.5 1373.7 328.3 C1373.0 329.0 1370.2 329.0 1368.7 329.1 C1367.3 329.2 1365.9 329.2 1365.0 328.8 C1364.1 328.3 1363.5 327.5 1363.2 326.5 C1362.9 325.5 1362.3 323.4 1363.3 322.8 C1364.2 322.2 1367.2 322.6 1368.8 322.9 C1370.4 323.2 1372.1 323.8 1372.9 324.7Z" fill="#f3704a"/>
<path d="M1471.0 338.3 C1470.4 337.4 1470.1 336.1 1470.3 335.2 C1470.4 334.4 1471.2 333.6 1471.7 333.2 C1472.2 332.7 1472.7 332.5 1473.5 332.5 C1474.4 332.5 1476.5 332.3 1476.8 333.1 C1477.1 333.8 1475.9 335.6 1475.4 336.9 C1475.0 338.2 1474.6 340.6 1473.9 340.8 C1473.1 341.1 1471.6 339.3 1471.0 338.3Z" fill="#f3704a"/>
<path d="M1498.0 340.6 C1497.5 340.6 1496.9 340.6 1496.7 340.3 C1496.5 340.1 1496.7 339.4 1496.8 339.0 C1496.9 338.6 1497.0 338.2 1497.4 337.9 C1497.7 337.6 1498.5 337.1 1499.0 337.2 C1499.5 337.4 1500.0 338.2 1500.1 338.8 C1500.3 339.3 1500.0 340.3 1499.7 340.6 C1499.3 340.9 1498.5 340.7 1498.0 340.6Z" fill="#f3704a"/>
<path d="M1364.9 348.7 C1366.0 347.7 1369.8 346.8 1371.6 347.1 C1373.4 347.4 1375.0 349.4 1375.9 350.7 C1376.8 352.0 1377.8 354.1 1377.1 354.9 C1376.3 355.7 1373.3 355.3 1371.5 355.7 C1369.8 356.1 1367.5 357.8 1366.3 357.4 C1365.2 357.0 1364.8 354.8 1364.6 353.3 C1364.3 351.9 1363.7 349.7 1364.9 348.7Z" fill="#f3704a"/>
<path d="M1464.6 361.4 C1465.3 361.4 1466.3 363.1 1466.6 364.1 C1466.9 365.0 1466.5 365.7 1466.5 367.0 C1466.4 368.3 1466.8 371.4 1466.3 371.7 C1465.8 372.1 1464.4 369.8 1463.6 369.1 C1462.8 368.3 1461.8 368.1 1461.6 367.2 C1461.4 366.3 1462.0 364.8 1462.5 363.9 C1463.0 362.9 1463.9 361.3 1464.6 361.4Z" fill="#f3704a"/>
<path d="M1382.3 408.1 C1381.4 407.9 1379.8 406.2 1379.7 404.9 C1379.5 403.7 1380.8 401.8 1381.3 400.4 C1381.8 399.1 1382.2 397.1 1382.8 396.9 C1383.4 396.7 1384.3 398.4 1384.8 399.4 C1385.4 400.3 1386.2 401.7 1386.1 402.8 C1386.1 404.0 1385.3 405.3 1384.7 406.2 C1384.0 407.1 1383.1 408.3 1382.3 408.1Z" fill="#f3704a"/>
<path d="M1443.5 413.4 C1442.0 413.8 1441.5 414.0 1440.0 413.8 C1438.5 413.6 1435.0 413.3 1434.5 412.3 C1434.0 411.4 1435.8 409.0 1437.0 408.1 C1438.1 407.3 1439.6 407.4 1441.2 407.2 C1442.9 407.0 1445.6 405.9 1446.9 406.7 C1448.2 407.4 1449.7 410.4 1449.2 411.6 C1448.6 412.7 1445.1 413.1 1443.5 413.4Z" fill="#f3704a"/>
<path d="M1480.0 393.5 C1479.9 393.0 1479.9 392.2 1480.0 391.8 C1480.2 391.3 1480.4 391.1 1480.7 391.0 C1480.9 391.0 1481.3 390.9 1481.4 391.2 C1481.6 391.6 1481.5 392.6 1481.5 393.2 C1481.4 393.7 1481.4 394.5 1481.2 394.8 C1481.0 395.1 1480.6 395.2 1480.4 395.0 C1480.2 394.8 1480.1 394.1 1480.0 393.5Z" fill="#f3704a"/>
<path d="M1562.9 261.3 C1563.0 260.6 1563.6 259.7 1563.9 259.6 C1564.2 259.5 1564.6 260.3 1564.9 260.8 C1565.1 261.3 1565.3 262.1 1565.3 262.8 C1565.3 263.5 1565.2 264.6 1565.0 265.0 C1564.7 265.4 1564.3 265.5 1564.0 265.3 C1563.8 265.1 1563.6 264.6 1563.4 263.9 C1563.2 263.2 1562.8 262.0 1562.9 261.3Z" fill="#f3704a"/>
<path d="M1521.0 273.9 C1520.9 274.6 1520.6 276.1 1520.2 276.2 C1519.9 276.3 1519.1 275.0 1518.7 274.5 C1518.2 274.0 1517.6 273.9 1517.5 273.4 C1517.4 272.9 1517.6 271.9 1518.0 271.4 C1518.4 270.9 1519.4 270.3 1519.9 270.4 C1520.4 270.6 1520.6 271.8 1520.8 272.4 C1521.0 273.0 1521.1 273.3 1521.0 273.9Z" fill="#f3704a"/>
<path d="M1600.7 288.1 C1600.5 288.1 1600.1 287.9 1599.9 287.5 C1599.8 287.1 1599.7 286.5 1599.8 285.9 C1599.9 285.3 1600.0 284.2 1600.3 284.0 C1600.6 283.7 1601.3 284.0 1601.6 284.4 C1601.9 284.8 1602.3 285.8 1602.2 286.3 C1602.2 286.8 1601.5 287.1 1601.3 287.4 C1601.0 287.7 1600.9 288.1 1600.7 288.1Z" fill="#f3704a"/>
<path d="M1571.9 311.7 C1571.7 312.2 1571.2 313.0 1570.6 313.2 C1569.9 313.3 1568.8 313.0 1568.1 312.7 C1567.5 312.5 1566.6 312.1 1566.6 311.8 C1566.6 311.4 1567.5 311.1 1567.9 310.8 C1568.4 310.5 1568.4 310.1 1569.1 309.9 C1569.7 309.8 1571.1 309.7 1571.6 310.0 C1572.1 310.3 1572.1 311.2 1571.9 311.7Z" fill="#f3704a"/>
<path d="M1525.1 322.9 C1525.5 323.3 1526.1 324.7 1526.1 325.6 C1526.1 326.4 1525.5 327.5 1525.2 328.0 C1524.9 328.5 1524.6 328.6 1524.3 328.6 C1524.1 328.5 1523.8 328.3 1523.6 327.8 C1523.4 327.3 1523.0 326.4 1523.0 325.6 C1523.1 324.9 1523.4 323.6 1523.7 323.2 C1524.1 322.7 1524.7 322.5 1525.1 322.9Z" fill="#f3704a"/>
<path d="M1507.6 339.0 C1508.2 339.5 1507.7 340.2 1506.9 340.7 C1506.0 341.2 1504.0 341.8 1502.5 341.8 C1501.0 341.9 1499.0 341.3 1497.9 341.0 C1496.7 340.6 1495.5 339.9 1495.8 339.6 C1496.1 339.2 1498.3 339.1 1499.6 338.8 C1500.9 338.5 1502.2 337.6 1503.5 337.6 C1504.9 337.7 1507.0 338.5 1507.6 339.0Z" fill="#f3704a"/>
<path d="M1534.6 372.1 C1534.0 372.1 1532.9 371.7 1532.6 371.3 C1532.2 371.0 1532.3 370.5 1532.5 370.2 C1532.6 369.9 1533.1 369.7 1533.5 369.5 C1533.9 369.4 1534.4 369.2 1534.9 369.3 C1535.4 369.3 1536.4 369.5 1536.6 369.8 C1536.9 370.1 1536.8 370.7 1536.5 371.1 C1536.2 371.5 1535.3 372.0 1534.6 372.1Z" fill="#f3704a"/>
<path d="M1527.5 408.1 C1527.2 409.2 1526.7 411.2 1526.0 411.4 C1525.4 411.6 1524.1 410.4 1523.8 409.3 C1523.4 408.1 1523.4 405.7 1523.7 404.5 C1523.9 403.2 1524.6 402.5 1525.2 401.8 C1525.9 401.1 1527.1 399.9 1527.5 400.4 C1527.9 401.0 1527.8 403.8 1527.8 405.1 C1527.8 406.4 1527.8 407.1 1527.5 408.1Z" fill="#f3704a"/>
<path d="M1541.8 413.2 C1541.1 413.1 1539.7 412.6 1539.4 411.7 C1539.1 410.9 1539.7 409.2 1540.2 408.3 C1540.7 407.3 1541.5 405.9 1542.1 405.9 C1542.8 405.8 1543.8 407.1 1544.2 407.9 C1544.6 408.6 1544.5 409.7 1544.4 410.4 C1544.3 411.2 1544.0 411.9 1543.6 412.4 C1543.1 412.9 1542.5 413.4 1541.8 413.2Z" fill="#f3704a"/>
<path d="M1604.2 409.2 C1604.5 409.9 1602.9 411.5 1601.9 412.0 C1601.0 412.5 1599.9 412.3 1598.7 412.4 C1597.5 412.5 1595.7 413.0 1594.8 412.5 C1593.8 412.0 1592.7 410.3 1593.0 409.4 C1593.3 408.5 1595.2 407.5 1596.4 407.2 C1597.7 406.9 1598.9 407.3 1600.2 407.6 C1601.5 407.9 1603.9 408.4 1604.2 409.2Z" fill="#f3704a"/>
<path d="M1607.7 397.7 C1608.4 397.3 1610.6 398.9 1611.4 399.7 C1612.3 400.4 1612.4 401.2 1612.7 402.1 C1612.9 403.0 1613.5 404.2 1613.1 405.1 C1612.8 405.9 1611.6 406.8 1610.6 407.0 C1609.6 407.2 1607.6 407.1 1607.1 406.3 C1606.5 405.5 1607.3 403.8 1607.4 402.4 C1607.5 400.9 1607.1 398.2 1607.7 397.7Z" fill="#f3704a"/>
<path d="M1584.8 365.2 C1585.4 364.2 1588.5 363.3 1590.8 363.7 C1593.1 364.0 1596.5 365.9 1598.6 367.4 C1600.7 368.9 1603.1 371.2 1603.5 372.5 C1603.8 373.8 1602.5 375.0 1600.8 375.2 C1599.1 375.3 1595.3 374.3 1593.0 373.4 C1590.8 372.5 1588.9 371.0 1587.5 369.6 C1586.1 368.3 1584.3 366.2 1584.8 365.2Z" fill="#f3704a" />
<path d="M1394.0 323.9 C1394.7 324.0 1395.5 324.4 1395.6 324.7 C1395.7 324.9 1395.2 325.2 1394.7 325.4 C1394.1 325.6 1393.0 325.9 1392.4 325.9 C1391.8 325.8 1391.2 325.3 1391.0 325.1 C1390.8 324.8 1390.8 324.3 1391.3 324.1 C1391.8 324.0 1393.3 323.9 1394.0 323.9Z" fill="#9c8c86"/>
<path d="M1496.5 382.4 C1495.8 382.4 1494.5 382.3 1494.1 382.1 C1493.7 381.9 1493.9 381.3 1494.2 381.0 C1494.5 380.6 1495.2 380.1 1495.9 380.1 C1496.6 380.0 1497.8 380.4 1498.2 380.7 C1498.6 381.0 1498.5 381.5 1498.2 381.8 C1497.9 382.0 1497.2 382.3 1496.5 382.4Z" fill="#a8a2a0"/>
</g>
<path d="M1363.3 249.5 C1364.5 247.1 1355.8 246.6 1368.2 246.3 C1380.7 246.0 1414.1 247.6 1438.0 247.7 C1461.9 247.8 1487.8 247.1 1511.5 247.0 C1535.2 246.9 1563.8 247.2 1580.0 247.3 C1596.2 247.4 1602.7 246.7 1609.0 247.7 C1615.3 248.7 1616.0 250.5 1617.6 253.1 C1619.2 255.7 1618.4 258.9 1618.8 263.0 C1619.2 267.1 1619.6 267.0 1620.0 277.6 C1620.4 288.2 1620.9 310.3 1621.3 326.6 C1621.7 342.9 1622.9 363.9 1622.5 375.6 C1622.1 387.3 1619.0 391.5 1618.8 396.6 C1618.6 401.7 1620.7 403.1 1621.3 406.4 C1621.9 409.7 1622.9 413.3 1622.5 416.2 C1622.1 419.1 1621.0 422.9 1618.8 423.5 C1616.5 424.1 1612.7 420.7 1609.0 419.9 C1605.3 419.1 1600.5 418.5 1596.8 418.6 C1593.1 418.7 1592.7 420.2 1587.0 420.6 C1581.3 421.0 1569.5 421.2 1562.5 421.1 C1555.5 421.0 1549.8 420.6 1545.3 419.9 C1540.8 419.2 1538.3 417.1 1535.5 416.7 C1532.7 416.3 1531.0 416.7 1528.2 417.4 C1525.4 418.1 1522.9 420.3 1518.4 421.1 C1513.9 421.9 1510.5 422.2 1501.2 422.3 C1491.9 422.4 1477.0 421.8 1462.4 421.6 C1447.8 421.4 1425.6 421.6 1413.4 421.1 C1401.2 420.6 1395.1 418.7 1389.0 418.6 C1382.9 418.5 1380.4 420.0 1376.7 420.6 C1373.0 421.2 1369.0 422.6 1366.9 422.3 C1364.9 422.0 1365.0 422.1 1364.4 418.6 C1363.8 415.1 1363.8 408.4 1363.2 401.5 C1362.6 394.6 1361.5 385.4 1360.8 377.0 C1360.1 368.6 1359.5 359.4 1359.0 351.0 C1358.5 342.6 1357.5 334.8 1357.6 326.6 C1357.7 318.4 1358.8 310.2 1359.5 302.0 C1360.2 293.8 1361.3 284.5 1361.5 277.6 C1361.7 270.7 1360.5 265.2 1360.8 260.5 C1361.1 255.8 1362.1 251.9 1363.3 249.5Z" fill="none" stroke="#1f62c0" stroke-width="2.3" stroke-dasharray="8.5 4.5"/>
<path d="M1363.3 450.1 C1364.5 447.7 1355.8 447.2 1368.2 446.9 C1380.7 446.6 1414.1 448.2 1438.0 448.3 C1461.9 448.4 1487.8 447.7 1511.5 447.6 C1535.2 447.5 1563.8 447.8 1580.0 447.9 C1596.2 448.0 1602.7 447.3 1609.0 448.3 C1615.3 449.3 1616.0 451.2 1617.6 453.7 C1619.2 456.3 1618.4 459.5 1618.8 463.6 C1619.2 467.7 1619.6 467.6 1620.0 478.2 C1620.4 488.8 1620.9 510.9 1621.3 527.2 C1621.7 543.5 1622.9 564.1 1622.5 576.2 C1622.1 588.3 1619.0 594.1 1618.8 599.6 C1618.6 605.1 1620.7 606.1 1621.3 609.4 C1621.9 612.7 1622.9 616.4 1622.5 619.2 C1622.1 622.1 1621.0 625.9 1618.8 626.5 C1616.5 627.1 1612.7 623.7 1609.0 622.9 C1605.3 622.1 1600.5 621.5 1596.8 621.6 C1593.1 621.7 1592.7 623.2 1587.0 623.6 C1581.3 624.0 1569.5 624.2 1562.5 624.1 C1555.5 624.0 1549.8 623.6 1545.3 622.9 C1540.8 622.2 1538.3 620.1 1535.5 619.7 C1532.7 619.3 1531.0 619.7 1528.2 620.4 C1525.4 621.1 1522.9 623.3 1518.4 624.1 C1513.9 624.9 1510.5 625.2 1501.2 625.3 C1491.9 625.4 1477.0 624.8 1462.4 624.6 C1447.8 624.4 1425.6 624.6 1413.4 624.1 C1401.2 623.6 1395.1 621.7 1389.0 621.6 C1382.9 621.5 1380.4 623.0 1376.7 623.6 C1373.0 624.2 1369.0 625.6 1366.9 625.3 C1364.9 625.0 1365.0 625.1 1364.4 621.6 C1363.8 618.1 1363.8 611.4 1363.2 604.5 C1362.6 597.6 1361.5 588.8 1360.8 580.0 C1360.1 571.2 1359.5 560.4 1359.0 551.6 C1358.5 542.8 1357.5 535.4 1357.6 527.2 C1357.7 519.0 1358.8 510.8 1359.5 502.6 C1360.2 494.4 1361.3 485.1 1361.5 478.2 C1361.7 471.3 1360.5 465.8 1360.8 461.1 C1361.1 456.4 1362.1 452.5 1363.3 450.1Z" fill="#ffcdb8"/>
<g clip-path="url(#pc2)">
<path d="M1365.7 456.9 C1368.2 455.1 1379.8 454.1 1389.0 453.3 C1398.2 452.5 1408.6 452.1 1420.8 452.1 C1433.1 452.1 1453.8 453.3 1462.5 453.3 C1471.2 453.3 1471.0 448.6 1472.8 452.1 C1474.6 455.5 1472.8 467.2 1473.5 474.1 C1474.3 481.0 1475.0 488.8 1477.2 493.7 C1479.4 498.6 1483.7 502.3 1487.0 503.5 C1490.3 504.7 1492.7 502.6 1496.8 501.1 C1500.9 499.5 1507.8 497.0 1511.5 494.2 C1515.2 491.4 1518.0 489.0 1518.8 484.4 C1519.7 479.8 1518.1 472.1 1516.9 466.8 C1515.7 461.4 1518.1 454.9 1511.5 452.5 C1504.9 450.2 1482.9 448.9 1477.2 452.5 C1471.5 456.1 1476.6 467.6 1477.2 474.1 C1477.8 480.6 1476.8 485.1 1480.9 491.2 C1485.0 497.4 1496.6 504.7 1501.7 510.9 C1506.8 517.0 1509.0 522.3 1511.5 528.0 C1514.0 533.7 1511.1 541.9 1516.4 545.1 C1521.7 548.4 1538.0 544.7 1543.3 547.6 C1548.7 550.5 1549.5 557.8 1548.2 562.3 C1547.0 566.8 1541.3 572.1 1536.0 574.5 C1530.7 577.0 1522.5 575.0 1516.4 577.0 C1510.3 579.0 1504.2 586.0 1499.2 586.8 C1494.3 587.6 1490.7 583.5 1487.0 581.9 C1483.3 580.3 1480.5 579.0 1477.2 577.0 C1473.9 575.0 1471.1 569.6 1467.4 569.6 C1463.7 569.6 1458.8 576.6 1455.2 577.0 C1451.5 577.4 1447.4 575.4 1445.3 572.1 C1443.3 568.8 1444.9 561.5 1442.9 557.4 C1440.9 553.3 1436.8 550.9 1433.1 547.6 C1429.4 544.3 1423.3 541.1 1420.8 537.8 C1418.4 534.5 1419.6 528.8 1418.4 528.0 C1417.2 527.2 1415.1 532.9 1413.5 532.9 C1411.9 532.9 1409.0 527.2 1408.6 528.0 C1408.2 528.8 1411.5 534.9 1411.0 537.8 C1410.6 540.7 1408.6 543.5 1406.2 545.1 C1403.7 546.8 1399.6 547.6 1396.3 547.6 C1393.1 547.6 1389.8 546.8 1386.5 545.1 C1383.3 543.5 1380.0 539.0 1376.8 537.8 C1373.5 536.6 1369.2 539.4 1367.0 537.8 C1364.7 536.2 1362.9 532.1 1363.3 528.0 C1363.7 523.9 1367.2 517.4 1369.4 513.3 C1371.6 509.2 1375.9 506.8 1376.8 503.5 C1377.6 500.2 1375.5 497.0 1374.3 493.7 C1373.1 490.4 1369.0 487.2 1369.4 483.9 C1369.8 480.6 1375.9 477.4 1376.8 474.1 C1377.6 470.8 1376.1 467.2 1374.3 464.3 C1372.5 461.4 1363.3 458.8 1365.7 456.9Z" fill="#c9c9ca" />
<polygon points="1472.3,451.6 1517.6,451.6 1518.4,479.0 1501.7,501.1 1487.0,503.5 1477.2,494.2 1473.5,474.1" fill="#c9c9ca" />
<path d="M1422.1 480.2 C1422.3 477.9 1423.1 474.3 1424.5 472.9 C1426.0 471.4 1429.4 470.6 1430.7 471.6 C1431.9 472.7 1432.3 476.6 1431.9 479.0 C1431.5 481.4 1429.6 485.0 1428.2 486.4 C1426.8 487.7 1424.3 487.9 1423.3 486.8 C1422.3 485.8 1421.9 482.6 1422.1 480.2Z" fill="#ffcdb8" />
<path d="M1420.8 510.9 C1422.7 507.2 1425.3 503.5 1428.2 503.5 C1431.1 503.5 1434.3 508.8 1438.0 510.9 C1441.7 512.9 1446.6 514.1 1450.2 515.8 C1453.9 517.4 1457.6 517.8 1460.0 520.6 C1462.5 523.5 1464.5 529.1 1465.0 532.9 C1465.4 536.7 1465.4 541.5 1462.5 543.2 C1459.6 544.9 1452.7 544.1 1447.8 543.2 C1442.9 542.3 1437.6 539.1 1433.1 537.8 C1428.6 536.5 1423.5 537.4 1420.8 535.4 C1418.2 533.3 1417.2 529.6 1417.2 525.5 C1417.2 521.5 1419.0 514.5 1420.8 510.9Z" fill="#ffcdb8" />
<path d="M1473.5 454.5 C1474.3 450.2 1479.0 450.8 1480.9 453.3 C1482.7 455.7 1483.1 463.7 1484.5 469.2 C1486.0 474.7 1487.4 481.2 1489.5 486.4 C1491.5 491.5 1497.2 497.0 1496.8 499.8 C1496.4 502.7 1489.9 504.1 1487.0 503.5 C1484.1 502.9 1481.5 500.2 1479.7 496.1 C1477.8 492.1 1477.0 485.9 1476.0 479.0 C1475.0 472.1 1472.7 458.8 1473.5 454.5Z" fill="#ffcdb8" />
<path d="M1496.8 532.9 C1498.8 532.1 1506.6 540.2 1509.0 545.1 C1511.5 550.0 1513.1 557.8 1511.5 562.3 C1509.9 566.8 1503.7 569.6 1499.2 572.1 C1494.8 574.6 1487.8 577.4 1484.5 577.0 C1481.3 576.6 1479.2 572.9 1479.7 569.6 C1480.1 566.4 1484.1 560.7 1487.0 557.4 C1489.9 554.1 1495.2 554.1 1496.8 550.0 C1498.4 546.0 1494.8 533.7 1496.8 532.9Z" fill="#ffcdb8" />
<path d="M1425.8 601.5 C1427.8 599.5 1434.3 599.9 1438.0 596.6 C1441.7 593.3 1444.5 585.2 1447.8 581.9 C1451.1 578.6 1454.3 576.2 1457.6 577.0 C1460.9 577.8 1462.5 584.8 1467.4 586.8 C1472.3 588.8 1481.3 589.2 1487.0 589.2 C1492.7 589.2 1497.6 585.2 1501.7 586.8 C1505.8 588.4 1507.4 596.6 1511.5 599.0 C1515.6 601.5 1522.1 602.7 1526.2 601.5 C1530.3 600.3 1532.3 592.5 1536.0 591.7 C1539.7 590.9 1546.6 594.2 1548.2 596.6 C1549.9 599.0 1548.2 603.5 1545.8 606.4 C1543.3 609.3 1539.3 611.7 1533.5 613.8 C1527.8 615.8 1517.6 619.1 1511.5 618.6 C1505.4 618.2 1502.5 613.3 1496.8 611.3 C1491.1 609.3 1482.1 605.6 1477.2 606.4 C1472.3 607.2 1471.9 614.2 1467.4 616.2 C1462.9 618.2 1454.3 620.3 1450.2 618.6 C1446.2 617.0 1445.8 607.6 1442.9 606.4 C1440.0 605.2 1436.0 610.9 1433.1 611.3 C1430.2 611.7 1427.0 610.5 1425.8 608.9 C1424.5 607.2 1423.7 603.5 1425.8 601.5Z" fill="#c9c9ca" />
<path d="M1526.2 452.5 C1535.6 450.6 1570.1 452.3 1585.0 452.5 C1599.9 452.8 1610.3 450.4 1615.6 454.0 C1620.9 457.6 1616.8 465.9 1616.8 474.1 C1616.8 482.3 1617.7 497.0 1615.6 503.5 C1613.6 510.0 1609.3 510.4 1604.6 513.3 C1599.9 516.2 1592.3 518.2 1587.5 520.6 C1582.6 523.1 1578.5 525.1 1575.2 528.0 C1571.9 530.9 1570.7 536.5 1567.8 537.8 C1565.0 539.1 1559.3 537.9 1558.0 535.8 C1556.8 533.8 1558.3 529.7 1560.5 525.5 C1562.7 521.4 1569.9 516.2 1571.5 510.9 C1573.2 505.5 1571.9 499.0 1570.3 493.7 C1568.7 488.4 1564.8 483.5 1561.7 479.0 C1558.7 474.5 1556.2 467.8 1551.9 466.8 C1547.6 465.7 1539.9 473.3 1536.0 472.9 C1532.1 472.5 1530.3 467.7 1528.7 464.3 C1527.0 460.9 1516.8 454.5 1526.2 452.5Z" fill="#c9c9ca" />
<path d="M1511.5 456.9 C1512.2 453.5 1518.6 451.6 1521.3 454.0 C1524.0 456.5 1528.2 468.2 1527.4 471.6 C1526.7 475.1 1519.5 477.0 1516.9 474.6 C1514.2 472.1 1510.8 460.4 1511.5 456.9Z" fill="#c9c9ca" />
<path d="M1555.6 537.8 C1559.7 535.8 1568.7 535.4 1575.2 535.4 C1581.7 535.4 1589.1 536.2 1594.8 537.8 C1600.5 539.4 1606.6 541.1 1609.5 545.1 C1612.4 549.2 1612.4 557.0 1612.0 562.3 C1611.5 567.6 1609.9 573.7 1607.0 577.0 C1604.2 580.3 1599.3 581.9 1594.8 581.9 C1590.3 581.9 1585.0 577.4 1580.1 577.0 C1575.2 576.6 1569.9 579.9 1565.4 579.5 C1560.9 579.0 1556.0 577.4 1553.2 574.5 C1550.3 571.7 1548.7 566.8 1548.2 562.3 C1547.8 557.8 1549.5 551.7 1550.7 547.6 C1551.9 543.5 1551.5 539.8 1555.6 537.8Z" fill="#c9c9ca" />
<path d="M1582.5 606.4 C1584.6 603.3 1590.3 597.8 1594.8 596.6 C1599.3 595.4 1605.6 597.8 1609.5 599.0 C1613.4 600.3 1616.6 600.9 1618.1 604.0 C1619.5 607.0 1621.5 615.1 1618.1 617.4 C1614.6 619.8 1603.2 618.6 1597.2 618.2 C1591.3 617.8 1585.0 616.9 1582.5 615.0 C1580.1 613.0 1580.5 609.5 1582.5 606.4Z" fill="#c9c9ca" />
<path d="M1592.3 567.2 C1592.3 565.0 1595.8 562.3 1597.2 563.5 C1598.7 564.8 1600.9 572.3 1600.9 574.5 C1600.9 576.8 1598.7 578.2 1597.2 577.0 C1595.8 575.8 1592.3 569.4 1592.3 567.2Z" fill="#ffcdb8" />
<path d="M1506.6 493.7 C1508.4 490.6 1516.8 490.4 1521.3 490.0 C1525.8 489.6 1531.7 489.0 1533.5 491.2 C1535.4 493.5 1533.1 499.8 1532.3 503.5 C1531.5 507.2 1530.5 511.5 1528.7 513.3 C1526.8 515.1 1523.5 513.7 1521.3 514.5 C1519.1 515.3 1517.0 519.2 1515.2 518.2 C1513.3 517.2 1511.7 512.5 1510.3 508.4 C1508.8 504.3 1504.8 496.8 1506.6 493.7Z" fill="#f3704a" />
<path d="M1539.7 485.1 C1540.9 482.9 1548.5 481.2 1550.7 482.7 C1552.9 484.1 1551.9 489.8 1553.2 493.7 C1554.4 497.6 1558.0 501.9 1558.0 505.9 C1558.0 510.0 1554.6 515.3 1553.2 518.2 C1551.7 521.1 1550.5 524.7 1549.5 523.1 C1548.5 521.5 1548.0 512.9 1547.0 508.4 C1546.0 503.9 1544.6 500.0 1543.3 496.1 C1542.1 492.3 1538.4 487.4 1539.7 485.1Z" fill="#f3704a" />
<path d="M1478.7 453.8 C1478.0 455.5 1474.9 460.7 1474.8 464.3 C1474.6 467.9 1477.2 473.5 1477.7 475.3" fill="none" stroke="#f3704a" stroke-width="2.6" stroke-linecap="round"/>
<path d="M1520.8 522.6 C1522.9 522.2 1529.7 519.8 1533.5 520.2 C1537.4 520.5 1542.1 523.8 1543.8 524.6" fill="none" stroke="#f3704a" stroke-width="1.6" stroke-linecap="round"/>
<path d="M1527.4 526.8 C1528.4 527.8 1532.7 530.9 1533.1 532.9 C1533.5 534.9 1531.8 538.8 1529.9 539.0 C1527.9 539.2 1522.7 534.9 1521.3 534.1" fill="none" stroke="#f3704a" stroke-width="1.6" stroke-linecap="round"/>
<path d="M1576.4 528.0 C1577.2 527.4 1583.8 525.1 1587.5 524.3 C1591.1 523.5 1596.6 521.6 1598.5 523.1 C1600.4 524.6 1600.0 532.2 1599.0 533.4 C1597.9 534.6 1595.1 531.3 1592.3 530.5 C1589.6 529.6 1585.2 528.4 1582.5 528.0 C1579.9 527.6 1575.6 528.6 1576.4 528.0Z" fill="#f3704a" />
<path d="M1613.2 512.1 C1613.9 512.1 1615.6 517.9 1614.9 520.6 C1614.2 523.4 1609.7 528.5 1609.0 528.5 C1608.3 528.5 1610.0 523.4 1610.7 520.6 C1611.4 517.9 1612.5 512.1 1613.2 512.1Z" fill="#f3704a" />
<path d="M1376.8 552.5 C1377.9 552.9 1382.8 553.4 1383.6 555.0 C1384.4 556.5 1383.2 560.1 1381.7 561.6 C1380.1 563.0 1376.8 562.1 1374.3 563.5 C1371.8 565.0 1368.3 567.9 1367.0 570.1 C1365.6 572.4 1365.0 575.5 1366.2 577.0 C1367.4 578.5 1373.0 578.6 1374.3 579.0" fill="none" stroke="#f3704a" stroke-width="3.6" stroke-linecap="round"/>
<polygon points="1417.2,551.3 1424.5,568.4 1413.5,570.9" fill="#f3704a" />
<path d="M1392.7 599.0 C1394.7 598.0 1406.8 593.7 1409.8 596.6 C1412.9 599.5 1412.7 612.7 1411.0 616.2 C1409.4 619.7 1401.7 619.3 1400.0 617.4 C1398.4 615.6 1402.5 605.6 1401.2 605.2 C1400.0 604.8 1394.5 613.5 1392.7 615.0 C1390.8 616.4 1389.4 615.8 1390.2 613.8 C1391.0 611.7 1397.2 605.2 1397.6 602.7 C1398.0 600.3 1390.6 600.1 1392.7 599.0Z" fill="#f3704a" />
<path d="M1511.5 585.6 C1512.9 586.0 1519.9 590.3 1521.3 591.7 C1522.7 593.1 1521.5 594.6 1520.1 594.1 C1518.6 593.7 1514.2 590.7 1512.7 589.2 C1511.3 587.8 1510.1 585.2 1511.5 585.6Z" fill="#f3704a" />
<path d="M1565.4 595.4 C1564.8 594.4 1567.9 589.2 1569.1 589.2 C1570.3 589.2 1573.4 594.4 1572.8 595.4 C1572.1 596.4 1566.0 596.4 1565.4 595.4Z" fill="#f3704a" />
<path d="M1386.5 559.9 C1387.8 557.4 1393.9 553.7 1396.3 555.0 C1398.8 556.2 1399.6 563.5 1401.2 567.2 C1402.9 570.9 1406.2 575.0 1406.2 577.0 C1406.2 579.0 1402.9 580.3 1401.2 579.5 C1399.6 578.6 1397.8 571.7 1396.3 572.1 C1394.9 572.5 1394.1 578.2 1392.7 581.9 C1391.2 585.6 1389.8 592.1 1387.8 594.1 C1385.7 596.2 1382.1 595.4 1380.4 594.1 C1378.8 592.9 1377.4 589.7 1378.0 586.8 C1378.6 583.9 1382.3 579.9 1384.1 577.0 C1385.9 574.1 1388.6 572.5 1389.0 569.6 C1389.4 566.8 1385.3 562.3 1386.5 559.9Z" fill="#b6eca0" />
<path d="M1476.0 557.4 C1477.6 555.2 1483.5 554.5 1487.0 553.7 C1490.5 552.9 1494.8 551.1 1496.8 552.5 C1498.8 553.9 1500.1 559.8 1499.2 562.3 C1498.4 564.8 1494.8 565.6 1491.9 567.2 C1489.0 568.8 1484.5 572.1 1482.1 572.1 C1479.6 572.1 1478.2 569.7 1477.2 567.2 C1476.2 564.8 1474.3 559.6 1476.0 557.4Z" fill="#b6eca0" />
<path d="M1513.4 605.8 C1512.5 606.0 1511.2 605.9 1510.3 605.5 C1509.5 605.0 1508.4 604.1 1508.3 603.3 C1508.3 602.6 1509.2 601.7 1509.9 601.1 C1510.5 600.5 1511.3 599.8 1512.1 599.7 C1512.9 599.6 1514.0 599.9 1514.8 600.4 C1515.6 600.8 1517.0 601.4 1517.1 602.1 C1517.3 602.8 1516.2 603.8 1515.6 604.4 C1514.9 605.0 1514.2 605.6 1513.4 605.8Z" fill="#b6eca0"/>
<path d="M1596.0 475.3 C1598.1 473.9 1606.2 472.9 1609.5 474.1 C1612.8 475.3 1614.8 480.2 1615.6 482.7 C1616.4 485.1 1617.1 487.6 1614.4 488.8 C1611.7 490.0 1602.6 491.0 1599.7 490.0 C1596.8 489.0 1597.9 485.1 1597.2 482.7 C1596.6 480.2 1594.0 476.8 1596.0 475.3Z" fill="#b6eca0" />
</g>
<path d="M1363.3 450.1 C1364.5 447.7 1355.8 447.2 1368.2 446.9 C1380.7 446.6 1414.1 448.2 1438.0 448.3 C1461.9 448.4 1487.8 447.7 1511.5 447.6 C1535.2 447.5 1563.8 447.8 1580.0 447.9 C1596.2 448.0 1602.7 447.3 1609.0 448.3 C1615.3 449.3 1616.0 451.2 1617.6 453.7 C1619.2 456.3 1618.4 459.5 1618.8 463.6 C1619.2 467.7 1619.6 467.6 1620.0 478.2 C1620.4 488.8 1620.9 510.9 1621.3 527.2 C1621.7 543.5 1622.9 564.1 1622.5 576.2 C1622.1 588.3 1619.0 594.1 1618.8 599.6 C1618.6 605.1 1620.7 606.1 1621.3 609.4 C1621.9 612.7 1622.9 616.4 1622.5 619.2 C1622.1 622.1 1621.0 625.9 1618.8 626.5 C1616.5 627.1 1612.7 623.7 1609.0 622.9 C1605.3 622.1 1600.5 621.5 1596.8 621.6 C1593.1 621.7 1592.7 623.2 1587.0 623.6 C1581.3 624.0 1569.5 624.2 1562.5 624.1 C1555.5 624.0 1549.8 623.6 1545.3 622.9 C1540.8 622.2 1538.3 620.1 1535.5 619.7 C1532.7 619.3 1531.0 619.7 1528.2 620.4 C1525.4 621.1 1522.9 623.3 1518.4 624.1 C1513.9 624.9 1510.5 625.2 1501.2 625.3 C1491.9 625.4 1477.0 624.8 1462.4 624.6 C1447.8 624.4 1425.6 624.6 1413.4 624.1 C1401.2 623.6 1395.1 621.7 1389.0 621.6 C1382.9 621.5 1380.4 623.0 1376.7 623.6 C1373.0 624.2 1369.0 625.6 1366.9 625.3 C1364.9 625.0 1365.0 625.1 1364.4 621.6 C1363.8 618.1 1363.8 611.4 1363.2 604.5 C1362.6 597.6 1361.5 588.8 1360.8 580.0 C1360.1 571.2 1359.5 560.4 1359.0 551.6 C1358.5 542.8 1357.5 535.4 1357.6 527.2 C1357.7 519.0 1358.8 510.8 1359.5 502.6 C1360.2 494.4 1361.3 485.1 1361.5 478.2 C1361.7 471.3 1360.5 465.8 1360.8 461.1 C1361.1 456.4 1362.1 452.5 1363.3 450.1Z" fill="none" stroke="#1f62c0" stroke-width="2.3" stroke-dasharray="8.5 4.5"/>
<path d="M1363.3 650.9 C1364.5 648.5 1355.8 648.0 1368.2 647.7 C1380.7 647.4 1414.1 649.0 1438.0 649.1 C1461.9 649.2 1488.0 648.5 1511.5 648.4 C1535.0 648.3 1562.9 648.6 1579.0 648.7 C1595.1 648.8 1601.7 648.1 1608.0 649.1 C1614.3 650.1 1615.0 652.0 1616.6 654.5 C1618.2 657.0 1617.4 660.3 1617.8 664.4 C1618.2 668.5 1618.6 668.4 1619.0 679.0 C1619.4 689.6 1619.9 711.7 1620.3 728.0 C1620.7 744.3 1621.9 765.1 1621.5 777.0 C1621.1 788.9 1618.0 794.2 1617.8 799.6 C1617.6 805.0 1619.7 806.1 1620.3 809.4 C1620.9 812.7 1621.9 816.4 1621.5 819.2 C1621.1 822.1 1620.0 825.9 1617.8 826.5 C1615.5 827.1 1611.7 823.7 1608.0 822.9 C1604.3 822.1 1599.5 821.5 1595.8 821.6 C1592.1 821.7 1591.7 823.2 1586.0 823.6 C1580.3 824.0 1568.5 824.2 1561.5 824.1 C1554.5 824.0 1548.8 823.6 1544.3 822.9 C1539.8 822.2 1537.3 820.1 1534.5 819.7 C1531.7 819.3 1530.0 819.7 1527.2 820.4 C1524.4 821.1 1521.9 823.3 1517.4 824.1 C1512.9 824.9 1509.4 825.2 1500.2 825.3 C1491.0 825.4 1476.9 824.8 1462.4 824.6 C1447.9 824.4 1425.6 824.6 1413.4 824.1 C1401.2 823.6 1395.1 821.7 1389.0 821.6 C1382.9 821.5 1380.4 823.0 1376.7 823.6 C1373.0 824.2 1369.0 825.6 1366.9 825.3 C1364.9 825.0 1365.0 825.1 1364.4 821.6 C1363.8 818.1 1363.8 811.4 1363.2 804.5 C1362.6 797.6 1361.5 788.7 1360.8 780.0 C1360.1 771.3 1359.5 761.1 1359.0 752.4 C1358.5 743.7 1357.5 736.2 1357.6 728.0 C1357.7 719.8 1358.8 711.6 1359.5 703.4 C1360.2 695.2 1361.3 685.9 1361.5 679.0 C1361.7 672.1 1360.5 666.6 1360.8 661.9 C1361.1 657.2 1362.1 653.3 1363.3 650.9Z" fill="#bdeea5"/>
<g clip-path="url(#pc3)">
<path d="M1364.5 653.3 C1371.0 650.7 1384.9 651.7 1401.2 651.6 C1417.6 651.4 1440.0 652.5 1462.5 652.5 C1485.0 652.5 1517.6 651.7 1536.0 651.6 C1554.4 651.4 1564.6 650.9 1572.8 651.6 C1580.9 652.3 1578.9 654.7 1585.0 655.7 C1591.1 656.7 1604.6 655.6 1609.5 657.4 C1614.4 659.3 1614.4 663.2 1614.4 666.8 C1614.4 670.3 1611.1 676.3 1609.5 679.0 C1607.9 681.7 1605.6 680.6 1604.6 682.7 C1603.6 684.7 1605.0 689.2 1603.4 691.2 C1601.7 693.3 1597.0 695.3 1594.8 694.9 C1592.6 694.5 1591.1 692.1 1589.9 688.8 C1588.7 685.5 1588.7 676.3 1587.5 675.3 C1586.2 674.3 1585.0 681.7 1582.5 682.7 C1580.1 683.7 1574.8 682.9 1572.8 681.5 C1570.7 680.0 1574.4 675.5 1570.3 674.1 C1566.2 672.7 1557.2 673.3 1548.2 672.9 C1539.3 672.5 1526.6 670.6 1516.4 671.6 C1506.2 672.7 1496.0 677.4 1487.0 679.0 C1478.0 680.6 1470.3 680.8 1462.5 681.5 C1454.7 682.1 1443.9 680.6 1440.5 682.7 C1437.0 684.7 1442.3 690.6 1441.7 693.7 C1441.1 696.8 1439.4 699.4 1436.8 701.0 C1434.1 702.7 1429.2 701.9 1425.8 703.5 C1422.3 705.1 1416.6 707.6 1416.0 710.9 C1415.3 714.1 1422.5 720.9 1422.1 723.1 C1421.7 725.3 1416.6 725.1 1413.5 724.3 C1410.4 723.5 1405.9 720.0 1403.7 718.2 C1401.5 716.4 1399.2 715.8 1400.0 713.3 C1400.8 710.8 1408.4 706.4 1408.6 703.5 C1408.8 700.6 1404.5 697.8 1401.2 696.1 C1398.0 694.5 1392.7 694.3 1389.0 693.7 C1385.3 693.1 1381.4 694.1 1379.2 692.5 C1377.0 690.8 1375.1 686.1 1375.5 683.9 C1375.9 681.7 1382.7 680.4 1381.7 679.0 C1380.6 677.6 1372.7 677.4 1369.4 675.3 C1366.1 673.3 1362.9 670.4 1362.0 666.8 C1361.2 663.1 1358.0 655.8 1364.5 653.3Z" fill="#f3704a" />
<path d="M1362.0 747.6 C1363.7 740.2 1370.6 736.2 1371.8 732.9 C1373.1 729.6 1367.4 729.0 1369.4 728.0 C1371.4 727.0 1382.5 728.4 1384.1 726.8 C1385.7 725.1 1381.4 720.2 1379.2 718.2 C1377.0 716.2 1371.4 716.0 1370.6 714.5 C1369.8 713.1 1372.3 711.1 1374.3 709.6 C1376.3 708.2 1380.6 704.9 1382.9 706.0 C1385.1 707.0 1386.1 712.7 1387.8 715.8 C1389.4 718.8 1392.5 721.9 1392.7 724.3 C1392.9 726.8 1387.6 730.2 1389.0 730.5 C1390.4 730.7 1397.2 726.2 1401.2 725.5 C1405.3 724.9 1410.6 724.7 1413.5 726.8 C1416.4 728.8 1417.6 733.5 1418.4 737.8 C1419.2 742.1 1419.2 747.6 1418.4 752.5 C1417.6 757.4 1415.7 764.1 1413.5 767.2 C1411.3 770.3 1407.0 768.8 1404.9 770.9 C1402.9 772.9 1403.3 777.4 1401.2 779.5 C1399.2 781.5 1395.3 781.7 1392.7 783.1 C1390.0 784.6 1388.0 788.2 1385.3 788.0 C1382.7 787.8 1379.8 782.7 1376.8 781.9 C1373.7 781.1 1369.4 783.9 1367.0 783.1 C1364.5 782.3 1362.9 782.9 1362.0 777.0 C1361.2 771.1 1360.4 755.0 1362.0 747.6Z" fill="#f3704a" />
<path d="M1425.8 713.3 C1426.8 711.9 1429.6 712.9 1430.7 714.5 C1431.7 716.2 1430.7 720.9 1431.9 723.1 C1433.1 725.3 1437.8 726.6 1438.0 728.0 C1438.2 729.4 1433.7 730.0 1433.1 731.7 C1432.5 733.3 1435.3 737.4 1434.3 737.8 C1433.3 738.2 1429.6 734.1 1427.0 734.1 C1424.3 734.1 1419.2 738.6 1418.4 737.8 C1417.6 737.0 1421.1 731.7 1422.1 729.2 C1423.1 726.8 1423.9 725.8 1424.5 723.1 C1425.1 720.4 1424.7 714.7 1425.8 713.3Z" fill="#f3704a" />
<path d="M1444.1 721.9 C1444.7 721.3 1446.8 726.2 1449.0 726.8 C1451.3 727.4 1456.4 724.1 1457.6 725.5 C1458.8 727.0 1456.8 731.9 1456.4 735.4 C1456.0 738.8 1456.4 745.6 1455.2 746.4 C1453.9 747.2 1451.3 741.7 1449.0 740.2 C1446.8 738.8 1442.3 739.4 1441.7 737.8 C1441.1 736.2 1444.9 733.1 1445.3 730.5 C1445.8 727.8 1443.5 722.5 1444.1 721.9Z" fill="#f3704a" />
<path d="M1506.6 704.7 C1507.6 703.5 1511.9 704.3 1512.7 706.0 C1513.5 707.6 1511.3 711.7 1511.5 714.5 C1511.7 717.4 1514.0 720.2 1514.0 723.1 C1514.0 726.0 1512.9 730.4 1511.5 731.7 C1510.1 732.9 1506.2 731.9 1505.4 730.5 C1504.6 729.0 1507.2 724.9 1506.6 723.1 C1506.0 721.3 1501.7 721.1 1501.7 719.4 C1501.7 717.8 1505.8 715.8 1506.6 713.3 C1507.4 710.8 1505.6 706.0 1506.6 704.7Z" fill="#f3704a" />
<path d="M1491.9 737.8 C1492.5 736.6 1496.4 739.0 1499.2 740.2 C1502.1 741.5 1506.0 743.9 1509.0 745.1 C1512.1 746.4 1516.2 744.5 1517.6 747.6 C1519.1 750.7 1519.1 761.5 1517.6 763.5 C1516.2 765.6 1511.7 761.5 1509.0 759.9 C1506.4 758.2 1503.9 755.8 1501.7 753.7 C1499.5 751.7 1497.2 750.3 1495.6 747.6 C1493.9 744.9 1491.3 739.0 1491.9 737.8Z" fill="#f3704a" />
<path d="M1543.3 691.2 C1543.8 690.0 1547.8 693.3 1549.5 694.9 C1551.1 696.6 1550.5 699.8 1553.2 701.0 C1555.8 702.3 1562.5 700.6 1565.4 702.3 C1568.3 703.9 1570.3 707.8 1570.3 710.9 C1570.3 713.9 1567.4 718.4 1565.4 720.6 C1563.4 722.9 1560.7 724.3 1558.0 724.3 C1555.4 724.3 1551.7 722.9 1549.5 720.6 C1547.2 718.4 1545.0 713.9 1544.6 710.9 C1544.2 707.8 1547.2 705.5 1547.0 702.3 C1546.8 699.0 1542.9 692.5 1543.3 691.2Z" fill="#f3704a" />
<path d="M1569.1 724.3 C1570.5 721.9 1576.2 722.9 1580.1 723.1 C1584.0 723.3 1589.5 726.8 1592.3 725.5 C1595.2 724.3 1595.2 718.0 1597.2 715.8 C1599.3 713.5 1602.4 712.3 1604.6 712.1 C1606.8 711.9 1609.7 710.2 1610.7 714.5 C1611.7 718.8 1612.6 732.9 1610.7 737.8 C1608.9 742.7 1604.0 742.7 1599.7 743.9 C1595.4 745.1 1589.9 744.9 1585.0 745.1 C1580.1 745.4 1573.8 745.6 1570.3 745.1 C1566.8 744.7 1564.0 743.9 1564.2 742.7 C1564.4 741.5 1570.7 740.9 1571.5 737.8 C1572.3 734.7 1567.6 726.8 1569.1 724.3Z" fill="#f3704a" />
<path d="M1407.4 791.7 C1408.0 790.3 1415.1 791.3 1417.2 789.2 C1419.2 787.2 1418.2 780.9 1419.6 779.5 C1421.1 778.0 1424.9 779.0 1425.8 780.7 C1426.6 782.3 1424.3 785.8 1424.5 789.2 C1424.7 792.7 1428.0 799.0 1427.0 801.5 C1426.0 804.0 1420.6 804.6 1418.4 804.0 C1416.2 803.3 1415.3 799.9 1413.5 797.8 C1411.7 795.8 1406.8 793.1 1407.4 791.7Z" fill="#f3704a" />
<path d="M1499.2 813.8 C1499.9 811.1 1502.5 805.6 1504.2 801.5 C1505.8 797.4 1507.0 790.5 1509.0 789.2 C1511.1 788.0 1516.0 792.5 1516.4 794.1 C1516.8 795.8 1511.9 797.4 1511.5 799.0 C1511.1 800.7 1514.4 802.3 1514.0 804.0 C1513.5 805.6 1509.9 806.8 1509.0 808.9 C1508.2 810.9 1510.5 814.8 1509.0 816.2 C1507.6 817.6 1502.1 817.8 1500.5 817.4 C1498.8 817.0 1498.6 816.4 1499.2 813.8Z" fill="#f3704a" />
<path d="M1534.8 799.0 C1535.2 798.6 1540.3 800.9 1542.1 800.3 C1544.0 799.7 1544.0 795.8 1545.8 795.4 C1547.6 795.0 1551.5 796.0 1553.2 797.8 C1554.8 799.7 1554.8 803.3 1555.6 806.4 C1556.4 809.5 1558.9 814.8 1558.0 816.2 C1557.2 817.6 1552.3 816.0 1550.7 815.0 C1549.1 814.0 1549.7 811.1 1548.2 810.1 C1546.8 809.1 1543.6 810.1 1542.1 808.9 C1540.7 807.6 1540.9 804.4 1539.7 802.7 C1538.5 801.1 1534.4 799.5 1534.8 799.0Z" fill="#f3704a" />
<path d="M1468.6 709.6 C1469.2 707.2 1472.5 706.2 1474.8 707.2 C1477.0 708.2 1480.7 712.7 1482.1 715.8 C1483.5 718.8 1484.1 723.5 1483.3 725.5 C1482.5 727.6 1479.2 728.6 1477.2 728.0 C1475.2 727.4 1472.5 724.9 1471.1 721.9 C1469.6 718.8 1468.0 712.1 1468.6 709.6Z" fill="#c9c9cc" />
<path d="M1451.5 779.5 C1451.7 777.2 1454.9 773.1 1457.6 772.1 C1460.3 771.1 1465.4 771.9 1467.4 773.3 C1469.4 774.8 1470.5 778.8 1469.8 780.7 C1469.2 782.5 1464.9 782.1 1463.7 784.4 C1462.5 786.6 1463.5 792.5 1462.5 794.1 C1461.5 795.8 1458.6 795.6 1457.6 794.1 C1456.6 792.7 1457.4 788.0 1456.4 785.6 C1455.4 783.1 1451.3 781.7 1451.5 779.5Z" fill="#c9c9cc" />
<path d="M1570.3 810.1 C1570.7 807.6 1573.8 802.5 1575.2 799.0 C1576.6 795.6 1576.8 790.9 1578.9 789.2 C1580.9 787.6 1585.6 788.0 1587.5 789.2 C1589.3 790.5 1588.3 794.8 1589.9 796.6 C1591.5 798.4 1597.2 798.6 1597.2 800.3 C1597.2 801.9 1592.4 804.4 1589.9 806.4 C1587.5 808.4 1585.4 811.3 1582.5 812.5 C1579.7 813.8 1574.8 814.2 1572.8 813.8 C1570.7 813.3 1569.9 812.5 1570.3 810.1Z" fill="#c9c9cc" />
<path d="M1572.3 705.4 C1572.2 705.8 1572.0 706.2 1571.6 706.4 C1571.2 706.7 1570.5 707.0 1570.1 706.9 C1569.6 706.8 1569.0 706.3 1568.8 705.8 C1568.5 705.4 1568.6 704.8 1568.8 704.4 C1568.9 703.9 1569.3 703.3 1569.7 703.1 C1570.2 702.9 1571.1 702.9 1571.5 703.1 C1572.0 703.3 1572.3 703.9 1572.4 704.3 C1572.6 704.7 1572.5 705.1 1572.3 705.4Z" fill="#c5d4e4"/>
</g>
<path d="M1363.3 650.9 C1364.5 648.5 1355.8 648.0 1368.2 647.7 C1380.7 647.4 1414.1 649.0 1438.0 649.1 C1461.9 649.2 1488.0 648.5 1511.5 648.4 C1535.0 648.3 1562.9 648.6 1579.0 648.7 C1595.1 648.8 1601.7 648.1 1608.0 649.1 C1614.3 650.1 1615.0 652.0 1616.6 654.5 C1618.2 657.0 1617.4 660.3 1617.8 664.4 C1618.2 668.5 1618.6 668.4 1619.0 679.0 C1619.4 689.6 1619.9 711.7 1620.3 728.0 C1620.7 744.3 1621.9 765.1 1621.5 777.0 C1621.1 788.9 1618.0 794.2 1617.8 799.6 C1617.6 805.0 1619.7 806.1 1620.3 809.4 C1620.9 812.7 1621.9 816.4 1621.5 819.2 C1621.1 822.1 1620.0 825.9 1617.8 826.5 C1615.5 827.1 1611.7 823.7 1608.0 822.9 C1604.3 822.1 1599.5 821.5 1595.8 821.6 C1592.1 821.7 1591.7 823.2 1586.0 823.6 C1580.3 824.0 1568.5 824.2 1561.5 824.1 C1554.5 824.0 1548.8 823.6 1544.3 822.9 C1539.8 822.2 1537.3 820.1 1534.5 819.7 C1531.7 819.3 1530.0 819.7 1527.2 820.4 C1524.4 821.1 1521.9 823.3 1517.4 824.1 C1512.9 824.9 1509.4 825.2 1500.2 825.3 C1491.0 825.4 1476.9 824.8 1462.4 824.6 C1447.9 824.4 1425.6 824.6 1413.4 824.1 C1401.2 823.6 1395.1 821.7 1389.0 821.6 C1382.9 821.5 1380.4 823.0 1376.7 823.6 C1373.0 824.2 1369.0 825.6 1366.9 825.3 C1364.9 825.0 1365.0 825.1 1364.4 821.6 C1363.8 818.1 1363.8 811.4 1363.2 804.5 C1362.6 797.6 1361.5 788.7 1360.8 780.0 C1360.1 771.3 1359.5 761.1 1359.0 752.4 C1358.5 743.7 1357.5 736.2 1357.6 728.0 C1357.7 719.8 1358.8 711.6 1359.5 703.4 C1360.2 695.2 1361.3 685.9 1361.5 679.0 C1361.7 672.1 1360.5 666.6 1360.8 661.9 C1361.1 657.2 1362.1 653.3 1363.3 650.9Z" fill="none" stroke="#1f62c0" stroke-width="2.3" stroke-dasharray="8.5 4.5"/>
<ellipse cx="1873" cy="181.4" rx="139" ry="138.7" fill="#ffcdb8" stroke="#2e6fc0" stroke-width="1.8" stroke-dasharray="5 3.2"/>
<ellipse cx="1878.2" cy="160.7" rx="110.4" ry="102.9" fill="#fff" stroke="#232f3c" stroke-width="1.4"/>
<ellipse cx="1874" cy="155.7" rx="71.8" ry="67.6" fill="#c9c9c9"/>
<text x="1875.0" y="137.4" text-anchor="middle" font-family="'Liberation Serif', serif" font-weight="normal" fill="#1e1e1e" textLength="129.5" lengthAdjust="spacingAndGlyphs"><tspan dy="0.00" font-size="16.60">(Fe</tspan><tspan dy="3.32" font-size="10.62">2</tspan><tspan dy="-3.32" font-size="16.60">O</tspan><tspan dy="3.32" font-size="10.62">3</tspan><tspan dy="-3.32" font-size="16.60">)(Fe</tspan><tspan dy="-5.64" font-size="10.29">3+</tspan><tspan dy="5.64" font-size="16.60">)+(O</tspan><tspan dy="-5.64" font-size="10.29">2-</tspan><tspan dy="5.64" font-size="16.60">)</tspan></text>
<text x="1873.4" y="164.5" text-anchor="middle" font-family="'Liberation Serif', serif" font-weight="normal" fill="#1e1e1e" textLength="112" lengthAdjust="spacingAndGlyphs"><tspan dy="0.00" font-size="16.60">O</tspan><tspan dy="-5.64" font-size="10.29">2-</tspan><tspan dy="5.64" font-size="16.60">+H</tspan><tspan dy="3.32" font-size="10.62">2</tspan><tspan dy="-3.32" font-size="16.60">=H</tspan><tspan dy="3.32" font-size="10.62">2</tspan><tspan dy="-3.32" font-size="16.60">O+2e</tspan><tspan dy="-5.64" font-size="10.29">-</tspan></text>
<text x="1876.2" y="183.4" text-anchor="middle" font-family="'Liberation Serif', serif" font-weight="normal" fill="#1e1e1e" textLength="117.5" lengthAdjust="spacingAndGlyphs"><tspan dy="0.00" font-size="16.60">O</tspan><tspan dy="-5.64" font-size="10.29">2-</tspan><tspan dy="5.64" font-size="16.60">+CO=CO</tspan><tspan dy="3.32" font-size="10.62">2</tspan><tspan dy="-3.32" font-size="16.60">+2e</tspan><tspan dy="-5.64" font-size="10.29">-</tspan></text>
<rect x="1705" y="57.2" width="67" height="23.5" rx="3.5" fill="#fff" stroke="#c4c4c4" stroke-width="1.2"/>
<text x="1738.5" y="74.6" text-anchor="middle" font-family="'Liberation Serif', serif" font-size="16.3" fill="#1d1d1d" textLength="57" lengthAdjust="spacingAndGlyphs">Interface</text>
<line x1="1772" y1="79" x2="1788.5" y2="99" stroke="#2c3a4b" stroke-width="2" marker-end="url(#mDk2)"/>
<line x1="1731" y1="157" x2="1773" y2="167.5" stroke="#a9b9d9" stroke-width="1.8" marker-end="url(#mLB)"/>
<line x1="1730" y1="189" x2="1773" y2="173" stroke="#b9a52e" stroke-width="1.8" marker-end="url(#mOL)"/>
<line x1="1960.8" y1="157.6" x2="2009" y2="153" stroke="#a9b9d9" stroke-width="1.8" marker-end="url(#mLB)"/>
<line x1="1959" y1="182.8" x2="2007" y2="192" stroke="#b9a52e" stroke-width="1.8" marker-end="url(#mOL)"/>
<line x1="1852.4" y1="254.7" x2="1857" y2="270.5" stroke="#9a9a9a" stroke-width="1.6" marker-end="url(#mGy)"/>
<line x1="1894.8" y1="250" x2="1893.2" y2="270.5" stroke="#b7cde6" stroke-width="1.6" marker-end="url(#mLb2)"/>
<circle cx="1718.4" cy="155.0" r="14.0" fill="url(#g12)"/>
<text x="1718.4" y="160.6" text-anchor="middle" font-family="'Liberation Serif', serif" font-weight="normal" fill="#1e1e1e" ><tspan dy="0.00" font-size="17.00">H</tspan><tspan dy="3.40" font-size="10.88">2</tspan></text>
<circle cx="1717.0" cy="194.5" r="14.3" fill="url(#g13)"/>
<text x="1717.0" y="200.1" text-anchor="middle" font-family="'Liberation Serif', serif" font-weight="normal" fill="#1e1e1e" ><tspan dy="0.00" font-size="17.00">CO</tspan></text>
<circle cx="1786.8" cy="170.6" r="12.8" fill="url(#g14)"/>
<text x="1786.8" y="176.9" text-anchor="middle" font-family="'Liberation Serif', serif" font-weight="normal" fill="#1e1e1e" ><tspan dy="0.00" font-size="16.50">O</tspan><tspan dy="-5.61" font-size="10.23">2-</tspan></text>
<circle cx="1857.8" cy="76.7" r="14.5" fill="url(#g15)"/>
<text x="1857.8" y="83.0" text-anchor="middle" font-family="'Liberation Serif', serif" font-weight="normal" fill="#1e1e1e" ><tspan dy="0.00" font-size="16.50">Al</tspan><tspan dy="-5.61" font-size="10.23">3+</tspan></text>
<circle cx="1942.5" cy="102.5" r="14.5" fill="url(#g16)"/>
<text x="1942.5" y="108.8" text-anchor="middle" font-family="'Liberation Serif', serif" font-weight="normal" fill="#1e1e1e" ><tspan dy="0.00" font-size="16.50">Si</tspan><tspan dy="-5.61" font-size="10.23">4+</tspan></text>
<circle cx="2026.2" cy="152.0" r="14.2" fill="url(#g17)"/>
<text x="2026.2" y="157.6" text-anchor="middle" font-family="'Liberation Serif', serif" font-weight="normal" fill="#1e1e1e" ><tspan dy="0.00" font-size="17.00">H</tspan><tspan dy="3.40" font-size="10.88">2</tspan><tspan dy="-3.40" font-size="17.00">O</tspan></text>
<circle cx="2028.0" cy="197.3" r="14.5" fill="url(#g18)"/>
<text x="2028.0" y="202.9" text-anchor="middle" font-family="'Liberation Serif', serif" font-weight="normal" fill="#1e1e1e" ><tspan dy="0.00" font-size="17.00">CO</tspan><tspan dy="3.40" font-size="10.88">2</tspan></text>
<circle cx="1798.8" cy="210.5" r="12.2" fill="url(#g19)"/>
<text x="1798.8" y="216.8" text-anchor="middle" font-family="'Liberation Serif', serif" font-weight="normal" fill="#1e1e1e" ><tspan dy="0.00" font-size="16.50">Mg</tspan><tspan dy="-5.61" font-size="10.23">2+</tspan></text>
<circle cx="1955.2" cy="203.3" r="15.8" fill="url(#g20)"/>
<text x="1955.2" y="209.6" text-anchor="middle" font-family="'Liberation Serif', serif" font-weight="normal" fill="#1e1e1e" ><tspan dy="0.00" font-size="17.00">Ca</tspan><tspan dy="-5.78" font-size="10.54">2+</tspan></text>
<circle cx="1844.5" cy="240.0" r="16.6" fill="url(#g21)"/>
<text x="1844.5" y="246.3" text-anchor="middle" font-family="'Liberation Serif', serif" font-weight="normal" fill="#1e1e1e" ><tspan dy="0.00" font-size="17.00">Fe</tspan><tspan dy="-5.78" font-size="10.54">3+</tspan></text>
<circle cx="1896.6" cy="241.9" r="9.4" fill="url(#g22)"/>
<text x="1896.6" y="246.9" text-anchor="middle" font-family="'Liberation Serif', serif" font-weight="normal" fill="#1e1e1e" ><tspan dy="0.00" font-size="16.00">e</tspan><tspan dy="-5.44" font-size="9.92">-</tspan></text>
<text x="1761.0" y="252.8" text-anchor="start" font-family="'Liberation Serif', serif" font-weight="normal" fill="#1e1e1e" textLength="37.5" lengthAdjust="spacingAndGlyphs"><tspan dy="0.00" font-size="17.50">Fe</tspan><tspan dy="3.50" font-size="11.20">3</tspan><tspan dy="-3.50" font-size="17.50">O</tspan><tspan dy="3.50" font-size="11.20">4</tspan></text>
<text x="1784.3" y="285.5" text-anchor="start" font-family="'Liberation Serif', serif" font-weight="normal" fill="#1e1e1e" textLength="174" lengthAdjust="spacingAndGlyphs"><tspan dy="0.00" font-size="17.50">8Fe</tspan><tspan dy="3.50" font-size="11.20">2</tspan><tspan dy="-3.50" font-size="17.50">O</tspan><tspan dy="3.50" font-size="11.20">3</tspan><tspan dy="-3.50" font-size="17.50">+2Fe</tspan><tspan dy="-5.95" font-size="10.85">3+</tspan><tspan dy="5.95" font-size="17.50">+6e</tspan><tspan dy="-5.95" font-size="10.85">-</tspan><tspan dy="5.95" font-size="17.50">=6Fe</tspan><tspan dy="3.50" font-size="11.20">3</tspan><tspan dy="-3.50" font-size="17.50">O</tspan><tspan dy="3.50" font-size="11.20">4</tspan></text>
<line x1="1900.5" y1="196.3" x2="1963" y2="267.2" stroke="#2c3a4b" stroke-width="2" marker-start="url(#mDk2)" marker-end="url(#mDk2)"/>
<text transform="translate(1912.5 199.5) rotate(48.6)" font-family="'Liberation Serif', serif" font-size="17.5" fill="#1d1d1d" textLength="90" lengthAdjust="spacingAndGlyphs">Fast reduction</text>
<ellipse cx="1875.1" cy="459.5" rx="132.6" ry="136" fill="#bdeea5" stroke="#2e6fc0" stroke-width="1.8" stroke-dasharray="5 3.2"/>
<ellipse cx="1883.2" cy="436.5" rx="96.2" ry="91" fill="#fff" stroke="#232f3c" stroke-width="1.4"/>
<ellipse cx="1876.5" cy="435.6" rx="62.5" ry="57" fill="#c9c9c9"/>
<text x="1879.0" y="419.0" text-anchor="middle" font-family="'Liberation Serif', serif" font-weight="normal" fill="#1e1e1e" textLength="115" lengthAdjust="spacingAndGlyphs"><tspan dy="0.00" font-size="16.60">(FeO)(Fe</tspan><tspan dy="-5.64" font-size="10.29">2+</tspan><tspan dy="5.64" font-size="16.60">)+(O</tspan><tspan dy="-5.64" font-size="10.29">2-</tspan><tspan dy="5.64" font-size="16.60">)</tspan></text>
<text x="1879.0" y="447.5" text-anchor="middle" font-family="'Liberation Serif', serif" font-weight="normal" fill="#1e1e1e" textLength="112" lengthAdjust="spacingAndGlyphs"><tspan dy="0.00" font-size="16.60">O</tspan><tspan dy="-5.64" font-size="10.29">2-</tspan><tspan dy="5.64" font-size="16.60">+H</tspan><tspan dy="3.32" font-size="10.62">2</tspan><tspan dy="-3.32" font-size="16.60">=H</tspan><tspan dy="3.32" font-size="10.62">2</tspan><tspan dy="-3.32" font-size="16.60">O+2e</tspan><tspan dy="-5.64" font-size="10.29">-</tspan></text>
<text x="1881.0" y="467.0" text-anchor="middle" font-family="'Liberation Serif', serif" font-weight="normal" fill="#1e1e1e" textLength="116" lengthAdjust="spacingAndGlyphs"><tspan dy="0.00" font-size="16.60">O</tspan><tspan dy="-5.64" font-size="10.29">2-</tspan><tspan dy="5.64" font-size="16.60">+CO=CO</tspan><tspan dy="3.32" font-size="10.62">2</tspan><tspan dy="-3.32" font-size="16.60">+2e</tspan><tspan dy="-5.64" font-size="10.29">-</tspan></text>
<rect x="1680.2" y="342.7" width="65.4" height="23.8" rx="3.5" fill="#fff" stroke="#c4c4c4" stroke-width="1.2"/>
<text x="1712.6" y="360" text-anchor="middle" font-family="'Liberation Serif', serif" font-size="16.3" fill="#1d1d1d" textLength="56" lengthAdjust="spacingAndGlyphs">Interface</text>
<line x1="1745.6" y1="363.5" x2="1759.5" y2="388.5" stroke="#2c3a4b" stroke-width="1.8" marker-end="url(#mDk2)"/>
<line x1="1745.6" y1="363.5" x2="1799" y2="390" stroke="#2c3a4b" stroke-width="1.8" marker-end="url(#mDk2)"/>
<path d="M1922.4 329.8 C1922.9 328.8 1925.2 327.2 1927.4 326.9 C1929.5 326.5 1933.0 328.2 1935.3 327.9 C1937.6 327.6 1939.3 325.3 1941.2 325.1 C1943.2 324.8 1945.7 325.3 1947.2 326.3 C1948.7 327.2 1949.0 329.2 1950.2 330.8 C1951.3 332.4 1953.2 333.5 1954.1 335.8 C1955.1 338.1 1956.0 342.7 1956.1 344.7 C1956.3 346.8 1956.1 347.8 1955.1 348.1 C1954.1 348.4 1951.8 347.8 1950.2 346.7 C1948.5 345.6 1946.7 342.9 1945.2 341.7 C1943.7 340.6 1942.9 340.6 1941.2 339.8 C1939.6 338.9 1937.3 337.7 1935.3 336.8 C1933.3 335.9 1931.2 334.9 1929.3 334.2 C1927.5 333.5 1925.5 333.5 1924.4 332.8 C1923.2 332.1 1921.9 330.8 1922.4 329.8Z" fill="#f3704a" stroke="#2e6fc0" stroke-width="1.5" stroke-dasharray="4 2.5"/>
<line x1="1866" y1="358.5" x2="1935" y2="332" stroke="#6cc6c0" stroke-width="1.8"/>
<line x1="1903" y1="354" x2="1938" y2="335" stroke="#ffe04a" stroke-width="2"/>
<line x1="1930.5" y1="361" x2="1941" y2="337" stroke="#65a2d6" stroke-width="1.8"/>
<line x1="1948.4" y1="383" x2="1948.4" y2="343" stroke="#f67158" stroke-width="2"/>
<text x="1953.2" y="370.6" font-family="'Liberation Serif', serif" font-size="17.5" fill="#1d1d1d" textLength="60.5" lengthAdjust="spacingAndGlyphs">migration</text>
<circle cx="1856.0" cy="365.6" r="12.1" fill="url(#g23)"/>
<text x="1856.0" y="371.9" text-anchor="middle" font-family="'Liberation Serif', serif" font-weight="normal" fill="#1e1e1e" ><tspan dy="0.00" font-size="16.50">Mg</tspan><tspan dy="-5.61" font-size="10.23">2+</tspan></text>
<circle cx="1893.2" cy="363.6" r="13.9" fill="url(#g24)"/>
<text x="1893.2" y="369.9" text-anchor="middle" font-family="'Liberation Serif', serif" font-weight="normal" fill="#1e1e1e" ><tspan dy="0.00" font-size="16.50">Al</tspan><tspan dy="-5.61" font-size="10.23">3+</tspan></text>
<circle cx="1923.4" cy="373.9" r="14.3" fill="url(#g25)"/>
<text x="1923.4" y="380.2" text-anchor="middle" font-family="'Liberation Serif', serif" font-weight="normal" fill="#1e1e1e" ><tspan dy="0.00" font-size="16.50">Si</tspan><tspan dy="-5.61" font-size="10.23">4+</tspan></text>
<circle cx="1948.2" cy="398.3" r="15.5" fill="url(#g26)"/>
<text x="1948.2" y="404.6" text-anchor="middle" font-family="'Liberation Serif', serif" font-weight="normal" fill="#1e1e1e" ><tspan dy="0.00" font-size="17.00">Ca</tspan><tspan dy="-5.78" font-size="10.54">2+</tspan></text>
<line x1="1789" y1="449.6" x2="1744.5" y2="442" stroke="#e4825f" stroke-width="1.8" marker-end="url(#mSa)"/>
<line x1="1789" y1="457.2" x2="1744.5" y2="471" stroke="#e4825f" stroke-width="1.8" marker-end="url(#mSa)"/>
<line x1="1716.5" y1="434" x2="1702.5" y2="425" stroke="#c9a227" stroke-width="1.8" marker-end="url(#mOL)"/>
<line x1="1714" y1="481.5" x2="1703.5" y2="486.7" stroke="#b3bbdc" stroke-width="1.8" marker-end="url(#mLP)"/>
<circle cx="1688.9" cy="422.0" r="14.0" fill="url(#g29)"/>
<text x="1688.9" y="427.6" text-anchor="middle" font-family="'Liberation Serif', serif" font-weight="normal" fill="#1e1e1e" ><tspan dy="0.00" font-size="17.00">CO</tspan><tspan dy="3.40" font-size="10.88">2</tspan></text>
<circle cx="1728.2" cy="440.0" r="14.3" fill="url(#g30)"/>
<text x="1728.2" y="445.6" text-anchor="middle" font-family="'Liberation Serif', serif" font-weight="normal" fill="#1e1e1e" ><tspan dy="0.00" font-size="17.00">CO</tspan></text>
<circle cx="1727.6" cy="476.0" r="14.0" fill="url(#g31)"/>
<text x="1727.6" y="481.6" text-anchor="middle" font-family="'Liberation Serif', serif" font-weight="normal" fill="#1e1e1e" ><tspan dy="0.00" font-size="17.00">H</tspan><tspan dy="3.40" font-size="10.88">2</tspan></text>
<circle cx="1688.9" cy="490.0" r="14.3" fill="url(#g32)"/>
<text x="1688.9" y="495.6" text-anchor="middle" font-family="'Liberation Serif', serif" font-weight="normal" fill="#1e1e1e" ><tspan dy="0.00" font-size="17.00">H</tspan><tspan dy="3.40" font-size="10.88">2</tspan><tspan dy="-3.40" font-size="17.00">O</tspan></text>
<circle cx="1801.7" cy="451.0" r="12.5" fill="url(#g33)"/>
<text x="1801.7" y="457.3" text-anchor="middle" font-family="'Liberation Serif', serif" font-weight="normal" fill="#1e1e1e" ><tspan dy="0.00" font-size="16.50">O</tspan><tspan dy="-5.61" font-size="10.23">2-</tspan></text>
<line x1="1900.5" y1="520" x2="1898" y2="544" stroke="#b7cde6" stroke-width="1.8"/>
<circle cx="1902.6" cy="506.5" r="15.9" fill="url(#g34)"/>
<text x="1902.6" y="512.8" text-anchor="middle" font-family="'Liberation Serif', serif" font-weight="normal" fill="#1e1e1e" ><tspan dy="0.00" font-size="17.00">Fe</tspan><tspan dy="-5.78" font-size="10.54">2+</tspan></text>
<circle cx="1897.8" cy="553.2" r="9.9" fill="url(#g35)"/>
<text x="1897.8" y="558.2" text-anchor="middle" font-family="'Liberation Serif', serif" font-weight="normal" fill="#1e1e1e" ><tspan dy="0.00" font-size="16.00">e</tspan><tspan dy="-5.44" font-size="9.92">-</tspan></text>
<text x="1788.3" y="549.6" font-family="'Liberation Serif', serif" font-size="18" fill="#1d1d1d">Fe</text>
<text x="1837.8" y="582.0" text-anchor="start" font-family="'Liberation Serif', serif" font-weight="normal" fill="#1e1e1e" textLength="70.5" lengthAdjust="spacingAndGlyphs"><tspan dy="0.00" font-size="17.50">Fe</tspan><tspan dy="-5.95" font-size="10.85">2+</tspan><tspan dy="5.95" font-size="17.50">+e</tspan><tspan dy="-5.95" font-size="10.85">-</tspan><tspan dy="5.95" font-size="17.50">=Fe</tspan></text>
<polygon points="1910.9,602.0 1931.0,601.3 1950.4,603.3 1963.3,605.9 1976.9,607.8 1982.7,618.8 1988.5,628.5 1992.4,639.8 1994.3,649.5 1993.7,664.1 1991.8,678.6 1976.2,644.7 1950.4,618.8" fill="#f3704a" stroke="#2e6fc0" stroke-width="1.5" stroke-dasharray="4 2.5" stroke-linejoin="round"/>
<ellipse cx="1874.2" cy="726.7" rx="125" ry="128.9" fill="#bdeea5" stroke="#2e6fc0" stroke-width="1.8" stroke-dasharray="5 3.2"/>
<ellipse cx="1880.2" cy="721.5" rx="89" ry="84.6" fill="#fff" stroke="#232f3c" stroke-width="1.4"/>
<ellipse cx="1880.4" cy="713.2" rx="53.7" ry="52.5" fill="#c9c9c9"/>
<text x="1878.5" y="721.8" text-anchor="middle" font-family="'Liberation Serif', serif" font-size="20" fill="#1d1d1d" textLength="34" lengthAdjust="spacingAndGlyphs">FeO</text>
<text x="1811.3" y="819.3" font-family="'Liberation Serif', serif" font-size="20" fill="#1d1d1d">Fe</text>
<text transform="translate(1959.5 617.5) rotate(55)" font-family="'Liberation Serif', serif" font-size="13.5" font-weight="bold" fill="#2a1a14">Slag</text>
<rect x="1686.8" y="619.4" width="81.3" height="27.7" rx="4" fill="#fff" stroke="#c4c4c4" stroke-width="1.2"/>
<text x="1724" y="639.8" text-anchor="middle" font-family="'Liberation Serif', serif" font-size="19.5" fill="#1d1d1d" textLength="66.5" lengthAdjust="spacingAndGlyphs">Interface</text>
<line x1="1746.3" y1="648.5" x2="1760.8" y2="673.5" stroke="#2c3a4b" stroke-width="1.6" marker-end="url(#mDk2)"/>
<line x1="1767" y1="643.8" x2="1805" y2="670" stroke="#2c3a4b" stroke-width="1.6" marker-end="url(#mDk2)"/>
<rect x="1590.2" y="273.2" width="22.5" height="20.8" fill="none" stroke="#3a4a5e" stroke-width="1.9" stroke-dasharray="5.5 2.5"/>
<rect x="1591.4" y="474.4" width="15.3" height="15.9" fill="none" stroke="#3a4a5e" stroke-width="1.9" stroke-dasharray="5.5 2.5"/>
<rect x="1585.9" y="681.7" width="23.3" height="21.1" fill="none" stroke="#3a4a5e" stroke-width="1.9" stroke-dasharray="5.5 2.5"/>
<line x1="1612.7" y1="273.2" x2="1688.5" y2="194.0" stroke="#3a4a5e" stroke-width="2.2" fill="none" stroke-dasharray="17 6 2.4 6 2.4 6" marker-end="url(#mOpen)"/>
<line x1="1612.7" y1="291.2" x2="1760.5" y2="288.6" stroke="#3a4a5e" stroke-width="2.2" fill="none" stroke-dasharray="17 6 2.4 6 2.4 6" marker-end="url(#mOpen)"/>
<line x1="1606.7" y1="474.4" x2="1668.5" y2="434.5" stroke="#3a4a5e" stroke-width="2.2" fill="none" stroke-dasharray="17 6 2.4 6 2.4 6" marker-end="url(#mTri)"/>
<line x1="1606.7" y1="490.3" x2="1714.0" y2="539.6" stroke="#3a4a5e" stroke-width="2.2" fill="none" stroke-dasharray="17 6 2.4 6 2.4 6" marker-end="url(#mOpen)"/>
<line x1="1592.5" y1="681.7" x2="1709.0" y2="663.3" stroke="#3a4a5e" stroke-width="2.2" fill="none" stroke-dasharray="17 6 2.4 6 2.4 6" marker-end="url(#mOpen)"/>
<line x1="1601.8" y1="701.5" x2="1745.0" y2="821.8" stroke="#3a4a5e" stroke-width="2.2" fill="none" stroke-dasharray="17 6 2.4 6 2.4 6" marker-end="url(#mOpen)"/>
</svg>
</body></html>
